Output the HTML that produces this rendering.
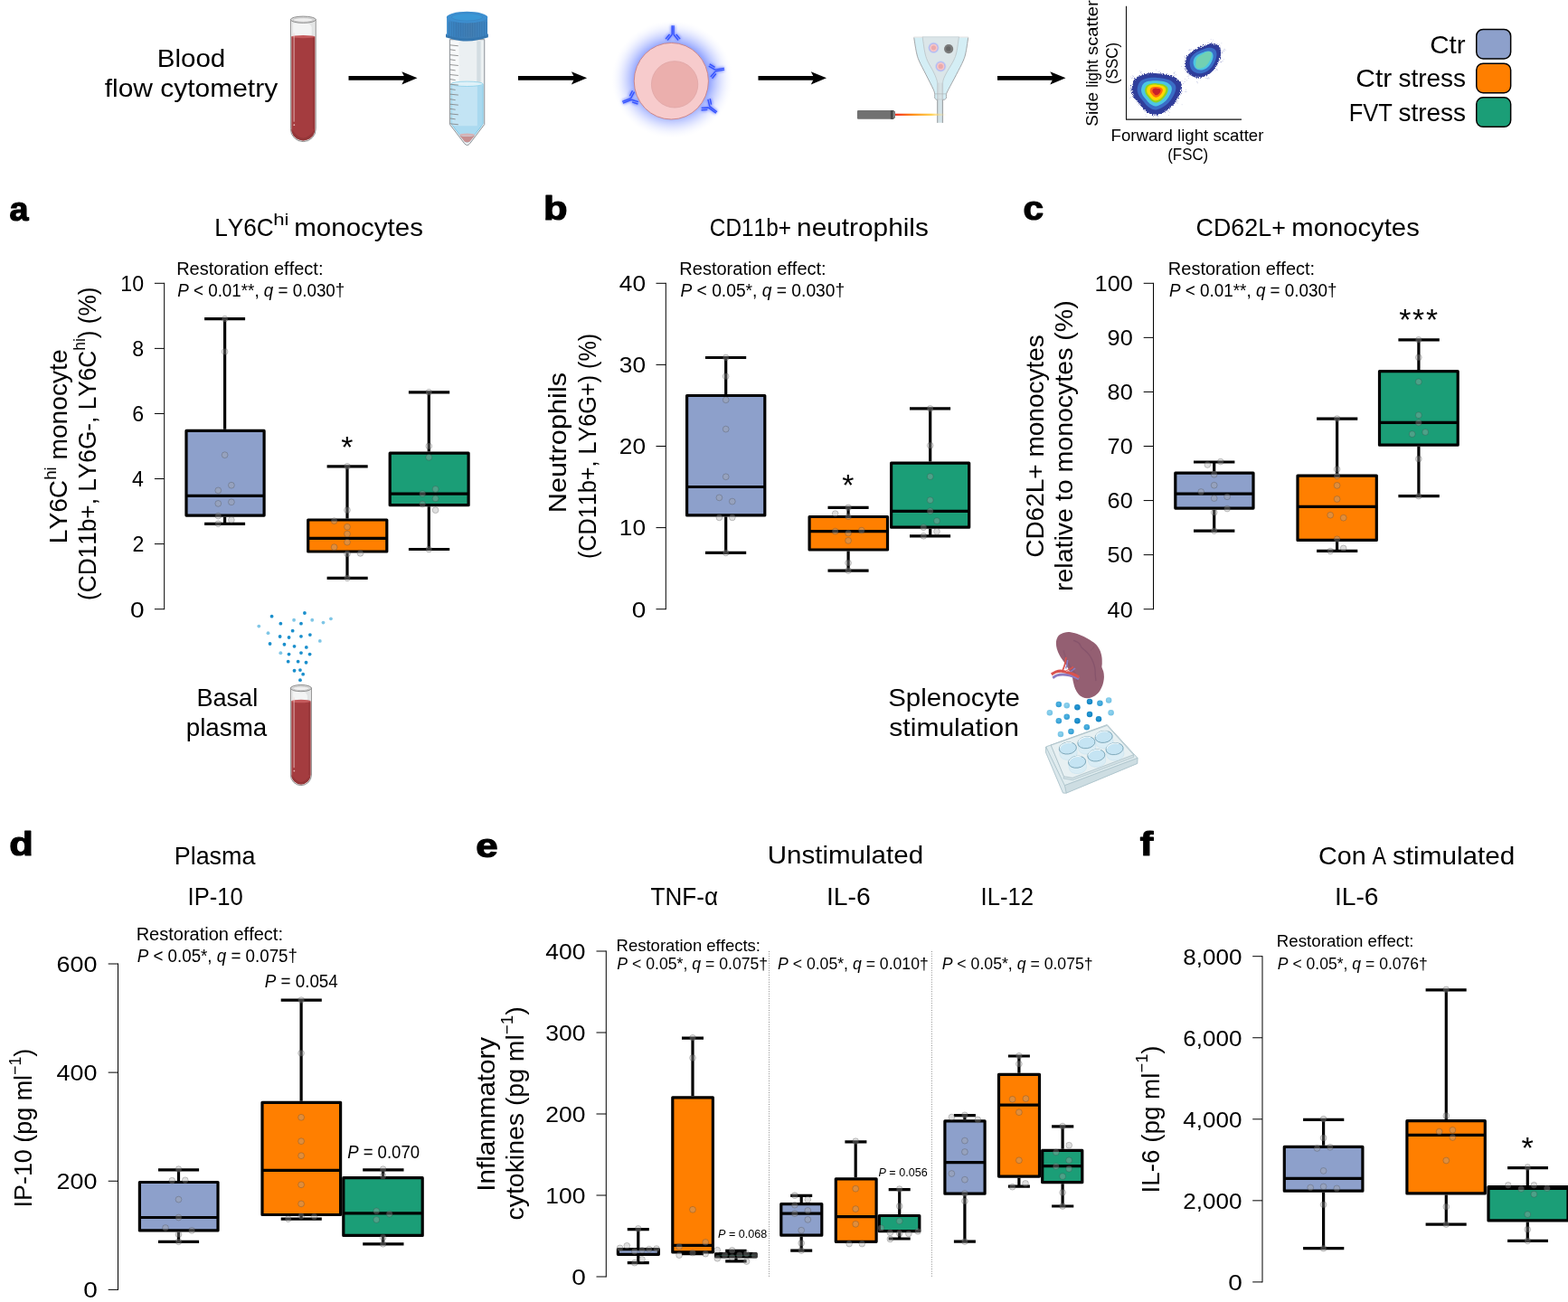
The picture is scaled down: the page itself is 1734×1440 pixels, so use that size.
<!DOCTYPE html>
<html lang="en"><head><meta charset="utf-8"><title>Figure</title>
<style>
html,body{margin:0;padding:0;background:#fff;overflow:hidden}
svg{display:block}
text{font-family:"Liberation Sans",sans-serif;font-kerning:none;white-space:pre}
.pt circle{fill:rgba(165,165,165,.36);stroke:rgba(50,50,50,.42);stroke-width:.6}
</style></head><body>
<svg width="1734" height="1440" viewBox="0 0 1734 1440">
<rect width="1734" height="1440" fill="#fff"/>
<defs>
<filter id="b1" x="-30%" y="-30%" width="160%" height="160%"><feTurbulence type="fractalNoise" baseFrequency="0.95" numOctaves="2" seed="4" result="n"/><feDisplacementMap in="SourceGraphic" in2="n" scale="5" xChannelSelector="R" yChannelSelector="G"/></filter>
<filter id="b2" x="-50%" y="-50%" width="200%" height="200%"><feGaussianBlur stdDeviation="1.6"/></filter>
<filter id="b05" x="-30%" y="-30%" width="160%" height="160%"><feGaussianBlur stdDeviation="0.4"/></filter>
<radialGradient id="glow" cx="50%" cy="50%" r="50%">
<stop offset="0" stop-color="#6f86ff" stop-opacity="1"/>
<stop offset="0.62" stop-color="#7d92ff" stop-opacity=".8"/>
<stop offset="0.70" stop-color="#8c9fff" stop-opacity=".6"/>
<stop offset="0.80" stop-color="#a3b1ff" stop-opacity=".37"/>
<stop offset="0.90" stop-color="#c3ccff" stop-opacity=".17"/>
<stop offset="1" stop-color="#e6eaff" stop-opacity="0"/>
</radialGradient>
<radialGradient id="glow2" cx="50%" cy="50%" r="50%">
<stop offset="0.55" stop-color="#7f8dff" stop-opacity="1"/>
<stop offset="1" stop-color="#aab4ff" stop-opacity="0"/>
</radialGradient>
<linearGradient id="beam" x1="0" x2="1" y1="0" y2="0">
<stop offset="0" stop-color="#f4251c"/><stop offset="0.35" stop-color="#ff8a10"/>
<stop offset="0.7" stop-color="#ffc93a" stop-opacity=".9"/><stop offset="1" stop-color="#ffe9a0" stop-opacity="0"/>
</linearGradient>
<linearGradient id="capg" x1="0" x2="1" y1="0" y2="0">
<stop offset="0" stop-color="#3d8ccc"/><stop offset="0.25" stop-color="#3a80bd"/><stop offset="0.6" stop-color="#437fb3"/><stop offset="1" stop-color="#3b86c6"/>
</linearGradient>
<radialGradient id="dD" cx="45%" cy="40%" r="60%"><stop offset="0" stop-color="#2a9bd6"/><stop offset="1" stop-color="#0f80c0"/></radialGradient>
<radialGradient id="dM" cx="45%" cy="40%" r="60%"><stop offset="0" stop-color="#55b6e2"/><stop offset="1" stop-color="#2f9bd3"/></radialGradient>
<radialGradient id="dL" cx="45%" cy="40%" r="60%"><stop offset="0" stop-color="#93d4ee"/><stop offset="1" stop-color="#6fc0e4"/></radialGradient>
</defs>
<g id="top"><text x="173.67" y="74.40" font-size="28" textLength="75.63" lengthAdjust="spacingAndGlyphs" fill="#000">Blood</text>
<text x="115.68" y="106.90" font-size="28" textLength="191.48" lengthAdjust="spacingAndGlyphs" fill="#000">flow cytometry</text>
<path d="M321.40 21.40V142.70A13.90 13.90 0 0 0 349.20 142.70V21.40Z" fill="#ececec" stroke="#8e8e8e" stroke-width="1"/>
<path d="M323.10 23.40V41.40H347.50V23.40Z" fill="#e2e4e4"/>
<path d="M324.10 25.40V41.40H344.70V30.40Q343.70 26.40 340.70 25.90Z" fill="#f3f4f4"/>
<path d="M322.30 40.60V142.40A13.00 13.00 0 0 0 348.30 142.40V40.60Z" fill="#a43c3f"/>
<path d="M322.30 142.40A13.00 13.00 0 0 0 348.30 142.40Q335.30 162.85 322.30 142.40Z" fill="#8f3336" opacity=".8"/>
<path d="M347.00 41.40V142.70" stroke="#983639" stroke-width="2.2"/>
<ellipse cx="335.30" cy="40.60" rx="13.00" ry="1.7" fill="#c45a5c"/>
<path d="M325.10 36.40V134.70" stroke="#f1d6d6" stroke-width=".8" opacity=".95"/>
<circle cx="325.30" cy="138.20" r=".9" fill="#e3b5b5"/>
<ellipse cx="335.30" cy="21.70" rx="13.90" ry="3.60" fill="#dcdcdc" stroke="#8e8e8e" stroke-width="1"/>
<ellipse cx="335.30" cy="22.00" rx="11.40" ry="2.20" fill="#efefef" stroke="#b5b5b5" stroke-width=".6"/>
<path d="M385.5 83.95H449.5V88.65H385.5Z" fill="#000"/><path d="M461.50 86.30L444.30 79.20L447.90 86.30L444.30 93.40Z" fill="#000"/>
<path d="M573.0 83.95H637.1V88.65H573.0Z" fill="#000"/><path d="M649.10 86.30L631.90 79.20L635.50 86.30L631.90 93.40Z" fill="#000"/>
<path d="M838.5 83.95H902.0V88.65H838.5Z" fill="#000"/><path d="M914.00 86.30L896.80 79.20L900.40 86.30L896.80 93.40Z" fill="#000"/>
<path d="M1103.0 83.95H1166.5V88.65H1103.0Z" fill="#000"/><path d="M1178.50 86.30L1161.30 79.20L1164.90 86.30L1161.30 93.40Z" fill="#000"/>
<path d="M497.39 43.68V137.54L513.68 158.80Q516.64 162.30 519.59 158.80L535.76 137.54V43.68Z" fill="#ebf0f2" stroke="#8b9196" stroke-width="1"/>
<path d="M527.26 45.45V90.91H531.63V45.45Z" fill="#d3dde2"/>
<path d="M498.34 45.45V90.91H507.54V45.45Z" fill="#f7f9fa"/>
<path d="M499.04 92.68V136.95L514.27 157.02Q516.64 158.80 519.00 157.02L534.11 136.95V92.68Z" fill="#c3e4f4"/>
<path d="M527.85 94.45V138.72L519.00 152.30L534.11 136.95V94.45Z" fill="#a9d9ef"/>
<path d="M500.11 139.32H533.16L525.49 148.76L507.78 148.76Z" fill="#abdaf0"/>
<path d="M499.04 92.68V136.95L508.96 149.94M534.11 92.68V136.95L524.31 149.94" fill="none" stroke="#6cbfe0" stroke-width=".7"/>
<ellipse cx="516.52" cy="92.80" rx="17.53" ry="2.70" fill="#dff1f8" stroke="#7fcbe6" stroke-width=".7"/>
<path d="M508.02 149.70Q516.64 152.30 525.25 149.70L519.35 156.79Q516.64 158.44 513.92 156.79Z" fill="#c78f90"/>
<ellipse cx="516.64" cy="149.11" rx="8.62" ry="1.6" fill="#d6b3b6"/>
<path d="M497.63 49.82L506.84 50.77M497.63 54.78L503.65 55.73M497.63 60.68L506.84 61.63M497.63 65.76L503.65 66.71M497.63 71.55L506.84 72.49M497.63 76.98L503.65 77.92M497.63 82.53L506.84 83.47M497.63 87.60L503.65 88.55M497.63 93.15L506.84 94.10M497.63 98.47L503.65 99.41M497.63 104.13L506.84 105.08M497.63 109.68L503.65 110.63M497.63 115.23L506.84 116.17M497.63 120.31L503.65 121.25M497.63 125.86L506.84 126.80M497.63 130.93L503.65 131.88M497.63 136.84L506.84 137.78" stroke="#7d7d7d" stroke-width=".8" fill="none"/>
<path d="M493.02 37.54V41.32Q516.40 49.59 539.89 41.32V37.54Q516.40 44.27 493.02 37.54Z" fill="#3577b0"/>
<path d="M494.09 17.94V38.96Q516.40 45.45 539.07 38.96V17.94Q516.40 8.85 494.09 17.94Z" fill="url(#capg)"/>
<path d="M496.56 24.20V40.73M499.16 24.20V40.73M501.76 24.20V40.73M504.36 24.20V40.73M506.95 24.20V40.73M509.55 24.20V40.73M512.15 24.20V40.73M514.75 24.20V40.73M517.34 24.20V40.73M519.94 24.20V40.73M522.54 24.20V40.73M525.14 24.20V40.73M527.73 24.20V40.73M530.33 24.20V40.73M532.93 24.20V40.73M535.53 24.20V40.73M538.12 24.20V40.73" stroke="#336fa5" stroke-width=".8" opacity=".7"/>
<ellipse cx="516.52" cy="19.13" rx="22.49" ry="6.32" fill="#3d8fd0"/>
<ellipse cx="516.52" cy="18.89" rx="17.12" ry="4.13" fill="#3a97d6" stroke="#3a82c0" stroke-width=".6"/>
<ellipse cx="743.33" cy="87.78" rx="67" ry="65" fill="url(#glow)"/>
<g filter="url(#b2)" opacity=".9"><g transform="translate(744.11 38.33) rotate(0.0)"><path d="M-.9 0V-10.2M.9 0V-10.2M-.9 0L-6 6.2M-3.6 -.3L-8 4.8M.9 0L6 6.2M3.6 -.3L8 4.8" stroke="#7d8fff" stroke-width="3.4" fill="none" stroke-linecap="butt"/></g></g>
<g filter="url(#b2)" opacity=".9"><g transform="translate(790.89 78.00) rotate(80.0)"><path d="M-.9 0V-10.2M.9 0V-10.2M-.9 0L-6 6.2M-3.6 -.3L-8 4.8M.9 0L6 6.2M3.6 -.3L8 4.8" stroke="#7d8fff" stroke-width="3.4" fill="none" stroke-linecap="butt"/></g></g>
<g filter="url(#b2)" opacity=".9"><g transform="translate(784.22 118.33) rotate(127.0)"><path d="M-.9 0V-10.2M.9 0V-10.2M-.9 0L-6 6.2M-3.6 -.3L-8 4.8M.9 0L6 6.2M3.6 -.3L8 4.8" stroke="#7d8fff" stroke-width="3.4" fill="none" stroke-linecap="butt"/></g></g>
<g filter="url(#b2)" opacity=".9"><g transform="translate(698.00 109.44) rotate(-112.0)"><path d="M-.9 0V-10.2M.9 0V-10.2M-.9 0L-6 6.2M-3.6 -.3L-8 4.8M.9 0L6 6.2M3.6 -.3L8 4.8" stroke="#7d8fff" stroke-width="3.4" fill="none" stroke-linecap="butt"/></g></g>
<g transform="translate(744.11 38.33) rotate(0.0)"><path d="M-.9 0V-10.2M.9 0V-10.2M-.9 0L-6 6.2M-3.6 -.3L-8 4.8M.9 0L6 6.2M3.6 -.3L8 4.8" stroke="#3553ff" stroke-width="1.45" fill="none" stroke-linecap="butt"/></g>
<g transform="translate(790.89 78.00) rotate(80.0)"><path d="M-.9 0V-10.2M.9 0V-10.2M-.9 0L-6 6.2M-3.6 -.3L-8 4.8M.9 0L6 6.2M3.6 -.3L8 4.8" stroke="#3553ff" stroke-width="1.45" fill="none" stroke-linecap="butt"/></g>
<g transform="translate(784.22 118.33) rotate(127.0)"><path d="M-.9 0V-10.2M.9 0V-10.2M-.9 0L-6 6.2M-3.6 -.3L-8 4.8M.9 0L6 6.2M3.6 -.3L8 4.8" stroke="#3553ff" stroke-width="1.45" fill="none" stroke-linecap="butt"/></g>
<g transform="translate(698.00 109.44) rotate(-112.0)"><path d="M-.9 0V-10.2M.9 0V-10.2M-.9 0L-6 6.2M-3.6 -.3L-8 4.8M.9 0L6 6.2M3.6 -.3L8 4.8" stroke="#3553ff" stroke-width="1.45" fill="none" stroke-linecap="butt"/></g>
<ellipse cx="742.33" cy="89.72" rx="41.1" ry="42.3" fill="#f7cbcc" stroke="#c98182" stroke-width=".9"/>
<circle cx="746.11" cy="93.33" r="25.70" fill="#ebafad" stroke="#dca4a3" stroke-width=".7"/>
<path d="M1010.59 40.88C1011.05 43.61 1012.39 52.89 1013.33 57.25C1014.28 61.62 1014.48 62.81 1016.27 67.06C1018.07 71.31 1021.50 77.52 1024.12 82.75C1026.73 87.97 1030.36 94.84 1031.96 98.43C1033.56 102.03 1033.43 102.68 1033.73 104.31C1034.02 105.95 1033.45 107.25 1033.73 108.24C1034.00 109.22 1035.11 109.87 1035.39 110.20L1044.71 110.20C1045.00 109.87 1046.18 109.22 1046.47 108.24C1046.76 107.25 1046.03 105.95 1046.47 104.31C1046.91 102.68 1047.29 102.03 1049.12 98.43C1050.95 94.84 1054.75 87.97 1057.45 82.75C1060.15 77.52 1063.50 71.31 1065.29 67.06C1067.09 62.81 1067.32 61.62 1068.24 57.25C1069.15 52.89 1070.36 43.61 1070.78 40.88Z" fill="#d4eef5" stroke="#9a9c9e" stroke-width=".9"/>
<path d="M1009.90 40.88H1071.67" stroke="#fff" stroke-width="1.2"/>
<path d="M1020.20 40.88C1020.60 43.61 1021.75 52.89 1022.65 57.25C1023.55 61.62 1024.04 63.46 1025.59 67.06C1027.14 70.65 1030.33 75.56 1031.96 78.82C1033.59 82.09 1034.61 84.54 1035.39 86.67C1036.18 88.79 1036.45 90.75 1036.67 91.57V110.20H1042.55V91.57L1042.55 91.57C1042.75 90.75 1042.88 88.79 1043.73 86.67C1044.58 84.54 1045.85 82.09 1047.65 78.82C1049.44 75.56 1052.79 70.65 1054.51 67.06C1056.23 63.46 1056.96 61.62 1057.94 57.25C1058.92 52.89 1059.98 43.61 1060.39 40.88Z" fill="#dbe6e9" stroke="#b4bbbe" stroke-width=".7"/>
<path d="M1020.69 40.88H1059.90" stroke="#dbe6e9" stroke-width="1.2"/>
<rect x="1036.37" y="110.20" width="6.37" height="25.49" fill="#d9e9ee"/>
<path d="M1036.67 110.20V135.88M1042.55 110.20V135.88" stroke="#9d9fa1" stroke-width="1"/>
<path d="M1038.14 91.57V135.88M1041.08 91.57V135.88" stroke="#b9c4c8" stroke-width=".6"/>
<path d="M1033.92 103.82H1046.27" stroke="#aab0b3" stroke-width=".6"/>
<circle cx="1032.45" cy="52.84" r="6.6" fill="url(#glow2)"/>
<circle cx="1032.45" cy="52.84" r="4.4" fill="#f5c6c8"/>
<circle cx="1032.45" cy="52.84" r="2.6" fill="#eba9ab"/>
<circle cx="1040.29" cy="73.43" r="6.6" fill="url(#glow2)"/>
<circle cx="1040.29" cy="73.43" r="4.4" fill="#f5c6c8"/>
<circle cx="1040.29" cy="73.43" r="2.6" fill="#eba9ab"/>
<circle cx="1049.12" cy="54.12" r="5.1" fill="#7b7b7b"/>
<circle cx="1048.82" cy="53.92" r="2.6" fill="#666"/>
<rect x="989.31" y="125.69" width="57.84" height="2.20" fill="url(#beam)"/>
<path d="M949.12 122.06H987.84L990.00 123.92V129.80L987.84 131.76H949.12Q947.94 131.76 947.94 130.59V123.24Q947.94 122.06 949.12 122.06Z" fill="#717171"/>
<path d="M984.90 122.06H987.84L990.00 123.92V129.80L987.84 131.76H984.90Z" fill="#474747"/>
<path d="M987.65 122.75L989.80 124.12V129.61L987.65 131.08Z" fill="#8a8a8a"/>
<path d="M1245.51 6.68V132.10H1372.99" fill="none" stroke="#111" stroke-width="1.1"/>
<path d="M1251.42 97.66C1251.64 94.45 1252.71 89.95 1254.89 87.38C1257.08 84.81 1260.35 83.27 1264.53 82.24C1268.71 81.21 1274.60 80.89 1279.95 81.21C1285.31 81.53 1292.37 82.50 1296.66 84.17C1300.94 85.84 1304.05 88.56 1305.65 91.24C1307.26 93.91 1307.15 96.80 1306.29 100.23C1305.44 103.66 1302.97 108.26 1300.51 111.80C1298.05 115.33 1295.16 118.82 1291.52 121.43C1287.88 124.05 1282.52 127.05 1278.67 127.47C1274.81 127.90 1271.60 126.19 1268.39 124.00C1265.17 121.82 1261.85 117.26 1259.39 114.37C1256.93 111.48 1254.94 109.44 1253.61 106.66C1252.28 103.87 1251.21 100.87 1251.42 97.66Z" fill="#35409a" filter="url(#b1)"/>
<path d="M1253.33 97.93C1253.53 94.94 1254.53 90.76 1256.56 88.37C1258.59 85.98 1261.64 84.55 1265.52 83.59C1269.40 82.63 1274.88 82.34 1279.86 82.63C1284.84 82.93 1291.41 83.83 1295.40 85.38C1299.38 86.94 1302.27 89.47 1303.76 91.96C1305.26 94.45 1305.16 97.13 1304.36 100.32C1303.56 103.51 1301.27 107.79 1298.98 111.08C1296.69 114.36 1294.00 117.61 1290.62 120.04C1287.23 122.47 1282.25 125.26 1278.67 125.66C1275.08 126.05 1272.09 124.46 1269.11 122.43C1266.12 120.40 1263.03 116.16 1260.74 113.47C1258.45 110.78 1256.60 108.89 1255.36 106.30C1254.13 103.71 1253.13 100.92 1253.33 97.93Z" fill="#2f3d9b"/>
<path d="M1257.69 98.55C1257.85 96.07 1258.68 92.61 1260.36 90.63C1262.04 88.65 1264.57 87.47 1267.78 86.67C1271.00 85.88 1275.53 85.64 1279.66 85.88C1283.78 86.13 1289.22 86.87 1292.52 88.16C1295.82 89.44 1298.21 91.54 1299.44 93.60C1300.68 95.66 1300.60 97.89 1299.94 100.53C1299.28 103.17 1297.38 106.71 1295.49 109.43C1293.59 112.15 1291.36 114.84 1288.56 116.85C1285.76 118.86 1281.63 121.17 1278.67 121.50C1275.70 121.83 1273.22 120.51 1270.75 118.83C1268.28 117.15 1265.72 113.64 1263.82 111.41C1261.93 109.18 1260.39 107.62 1259.37 105.47C1258.35 103.33 1257.52 101.02 1257.69 98.55Z" fill="#3a6dc6"/>
<path d="M1262.05 99.26C1262.18 97.31 1262.83 94.56 1264.16 92.99C1265.50 91.43 1267.50 90.49 1270.04 89.86C1272.59 89.23 1276.18 89.04 1279.45 89.23C1282.72 89.43 1287.03 90.02 1289.64 91.03C1292.25 92.05 1294.15 93.71 1295.13 95.35C1296.11 96.98 1296.04 98.74 1295.52 100.83C1295.00 102.92 1293.49 105.73 1291.99 107.89C1290.49 110.04 1288.73 112.17 1286.50 113.77C1284.28 115.36 1281.02 117.19 1278.67 117.45C1276.31 117.71 1274.35 116.67 1272.40 115.33C1270.44 114.00 1268.41 111.22 1266.91 109.46C1265.41 107.69 1264.19 106.45 1263.38 104.75C1262.57 103.05 1261.92 101.22 1262.05 99.26Z" fill="#4cc6e3"/>
<path d="M1266.13 99.74C1266.23 98.27 1266.73 96.20 1267.73 95.01C1268.74 93.83 1270.24 93.12 1272.16 92.65C1274.09 92.18 1276.79 92.03 1279.26 92.18C1281.72 92.32 1284.97 92.77 1286.94 93.54C1288.91 94.30 1290.34 95.56 1291.08 96.79C1291.82 98.02 1291.77 99.35 1291.37 100.93C1290.98 102.50 1289.85 104.62 1288.71 106.25C1287.58 107.87 1286.25 109.48 1284.58 110.68C1282.90 111.88 1280.44 113.26 1278.67 113.46C1276.89 113.65 1275.42 112.87 1273.94 111.86C1272.46 110.86 1270.93 108.76 1269.80 107.43C1268.67 106.10 1267.75 105.16 1267.14 103.88C1266.53 102.60 1266.04 101.22 1266.13 99.74Z" fill="#8ed321"/>
<path d="M1268.15 99.89C1268.24 98.67 1268.64 96.96 1269.47 95.99C1270.30 95.01 1271.55 94.42 1273.14 94.03C1274.72 93.64 1276.96 93.52 1279.00 93.64C1281.03 93.76 1283.72 94.13 1285.34 94.76C1286.97 95.40 1288.15 96.43 1288.76 97.45C1289.37 98.47 1289.33 99.57 1289.01 100.87C1288.68 102.17 1287.74 103.92 1286.81 105.26C1285.87 106.61 1284.77 107.93 1283.39 108.93C1282.01 109.92 1279.97 111.06 1278.51 111.22C1277.04 111.38 1275.82 110.73 1274.60 109.90C1273.38 109.07 1272.12 107.34 1271.18 106.24C1270.25 105.14 1269.49 104.37 1268.98 103.31C1268.48 102.25 1268.07 101.11 1268.15 99.89Z" fill="#ffd800"/>
<path d="M1271.72 100.15C1271.77 99.33 1272.05 98.18 1272.60 97.53C1273.16 96.87 1274.00 96.48 1275.06 96.22C1276.13 95.96 1277.63 95.87 1278.99 95.96C1280.36 96.04 1282.16 96.28 1283.25 96.71C1284.35 97.14 1285.14 97.83 1285.55 98.51C1285.96 99.19 1285.93 99.93 1285.71 100.81C1285.49 101.68 1284.86 102.85 1284.24 103.75C1283.61 104.66 1282.87 105.55 1281.94 106.21C1281.01 106.88 1279.65 107.64 1278.67 107.75C1277.68 107.86 1276.86 107.42 1276.04 106.87C1275.23 106.31 1274.38 105.15 1273.75 104.41C1273.12 103.67 1272.62 103.15 1272.28 102.44C1271.94 101.73 1271.66 100.97 1271.72 100.15Z" fill="#ff6a10"/>
<path d="M1274.39 100.34C1274.42 99.81 1274.60 99.07 1274.96 98.65C1275.32 98.22 1275.86 97.97 1276.55 97.80C1277.24 97.63 1278.21 97.58 1279.09 97.63C1279.98 97.68 1281.14 97.84 1281.85 98.12C1282.56 98.39 1283.07 98.84 1283.33 99.28C1283.60 99.73 1283.58 100.20 1283.44 100.77C1283.30 101.33 1282.89 102.09 1282.49 102.68C1282.08 103.26 1281.60 103.84 1281.00 104.27C1280.40 104.70 1279.52 105.19 1278.88 105.26C1278.24 105.33 1277.71 105.05 1277.18 104.69C1276.65 104.33 1276.11 103.58 1275.70 103.10C1275.29 102.62 1274.97 102.29 1274.75 101.83C1274.53 101.37 1274.35 100.87 1274.39 100.34Z" fill="#c8202a"/>
<path d="M1311.18 73.89C1310.64 70.89 1310.86 67.14 1312.08 64.25C1313.30 61.36 1315.72 58.68 1318.50 56.54C1321.29 54.40 1325.36 52.77 1328.78 51.40C1332.21 50.03 1336.02 48.49 1339.06 48.32C1342.10 48.15 1345.19 48.89 1347.03 50.37C1348.87 51.85 1349.90 54.44 1350.11 57.18C1350.33 59.92 1349.51 63.61 1348.31 66.82C1347.11 70.03 1345.21 73.67 1342.92 76.46C1340.63 79.24 1337.67 81.96 1334.56 83.53C1331.46 85.09 1327.50 86.05 1324.28 85.84C1321.07 85.62 1317.47 84.23 1315.29 82.24C1313.10 80.25 1311.71 76.89 1311.18 73.89Z" fill="#35409a" filter="url(#b1)"/>
<path d="M1312.74 73.32C1312.25 70.56 1312.44 67.12 1313.57 64.46C1314.69 61.80 1316.92 59.33 1319.48 57.36C1322.04 55.39 1325.78 53.90 1328.94 52.63C1332.09 51.37 1335.60 49.95 1338.39 49.80C1341.19 49.64 1344.03 50.33 1345.72 51.69C1347.42 53.05 1348.36 55.43 1348.56 57.95C1348.76 60.48 1348.01 63.87 1346.91 66.82C1345.80 69.78 1344.05 73.13 1341.94 75.69C1339.83 78.25 1337.11 80.75 1334.26 82.19C1331.40 83.63 1327.75 84.51 1324.80 84.32C1321.84 84.12 1318.53 82.84 1316.52 81.01C1314.51 79.18 1313.23 76.08 1312.74 73.32Z" fill="#2f3d9b"/>
<path d="M1315.86 72.19C1315.46 69.91 1315.62 67.07 1316.55 64.87C1317.48 62.67 1319.32 60.64 1321.43 59.01C1323.55 57.38 1326.64 56.14 1329.24 55.10C1331.85 54.06 1334.75 52.89 1337.06 52.76C1339.37 52.63 1341.71 53.20 1343.11 54.32C1344.51 55.44 1345.29 57.41 1345.46 59.50C1345.62 61.58 1345.00 64.38 1344.09 66.82C1343.18 69.26 1341.73 72.03 1339.99 74.15C1338.25 76.26 1336.00 78.33 1333.64 79.52C1331.28 80.71 1328.27 81.44 1325.83 81.27C1323.38 81.11 1320.65 80.05 1318.99 78.54C1317.33 77.03 1316.27 74.47 1315.86 72.19Z" fill="#3a6dc6"/>
<path d="M1319.77 70.78C1319.47 69.10 1319.59 67.00 1320.27 65.38C1320.96 63.76 1322.31 62.26 1323.87 61.06C1325.43 59.86 1327.71 58.95 1329.63 58.19C1331.55 57.42 1333.68 56.55 1335.39 56.46C1337.09 56.36 1338.82 56.78 1339.85 57.61C1340.88 58.44 1341.46 59.89 1341.58 61.42C1341.70 62.96 1341.24 65.02 1340.57 66.82C1339.90 68.62 1338.83 70.66 1337.55 72.22C1336.26 73.78 1334.61 75.30 1332.87 76.18C1331.13 77.05 1328.91 77.59 1327.11 77.47C1325.31 77.35 1323.30 76.57 1322.07 75.46C1320.85 74.34 1320.07 72.46 1319.77 70.78Z" fill="#4cc6e3"/>
<path d="M1322.36 70.03C1322.53 68.43 1322.57 65.86 1323.64 64.25C1324.71 62.64 1326.85 61.57 1328.78 60.40C1330.71 59.22 1333.49 57.61 1335.21 57.18C1336.92 56.75 1338.31 56.97 1339.06 57.83C1339.81 58.68 1340.13 60.40 1339.70 62.32C1339.28 64.25 1337.88 67.36 1336.49 69.39C1335.10 71.43 1333.17 73.46 1331.35 74.53C1329.53 75.60 1327.03 75.92 1325.57 75.82C1324.11 75.71 1323.15 74.85 1322.61 73.89C1322.08 72.92 1322.19 71.64 1322.36 70.03Z" fill="#72d1b2"/>
<g fill="#5a63b0" opacity=".6"><rect x="1310.5" y="89.9" width=".6" height=".6"/><rect x="1333.3" y="83.6" width=".6" height=".6"/><rect x="1278.8" y="80.9" width=".6" height=".6"/><rect x="1345.0" y="76.9" width=".6" height=".6"/><rect x="1266.7" y="126.5" width=".6" height=".6"/><rect x="1351.7" y="57.5" width=".6" height=".6"/><rect x="1340.3" y="46.1" width=".6" height=".6"/><rect x="1310.2" y="101.2" width=".6" height=".6"/><rect x="1352.9" y="65.4" width=".6" height=".6"/><rect x="1299.6" y="113.7" width=".6" height=".6"/><rect x="1351.4" y="58.5" width=".6" height=".6"/><rect x="1334.2" y="85.9" width=".6" height=".6"/><rect x="1298.7" y="84.7" width=".6" height=".6"/><rect x="1319.2" y="55.8" width=".6" height=".6"/><rect x="1252.8" y="84.4" width=".6" height=".6"/><rect x="1334.1" y="84.1" width=".6" height=".6"/><rect x="1301.9" y="114.4" width=".6" height=".6"/><rect x="1354.4" y="53.9" width=".6" height=".6"/><rect x="1250.9" y="86.5" width=".6" height=".6"/><rect x="1308.9" y="74.9" width=".6" height=".6"/><rect x="1300.3" y="82.6" width=".6" height=".6"/><rect x="1338.8" y="43.0" width=".6" height=".6"/><rect x="1311.2" y="99.0" width=".6" height=".6"/><rect x="1310.2" y="86.9" width=".6" height=".6"/><rect x="1311.6" y="101.4" width=".6" height=".6"/><rect x="1354.8" y="55.5" width=".6" height=".6"/><rect x="1250.2" y="107.1" width=".6" height=".6"/><rect x="1314.0" y="86.1" width=".6" height=".6"/><rect x="1297.9" y="81.2" width=".6" height=".6"/><rect x="1353.2" y="55.9" width=".6" height=".6"/><rect x="1260.9" y="80.3" width=".6" height=".6"/><rect x="1350.0" y="68.5" width=".6" height=".6"/><rect x="1299.9" y="110.7" width=".6" height=".6"/><rect x="1322.0" y="86.5" width=".6" height=".6"/><rect x="1277.9" y="128.6" width=".6" height=".6"/><rect x="1349.1" y="50.7" width=".6" height=".6"/><rect x="1251.9" y="83.0" width=".6" height=".6"/><rect x="1336.0" y="84.9" width=".6" height=".6"/><rect x="1298.2" y="80.4" width=".6" height=".6"/><rect x="1353.5" y="54.2" width=".6" height=".6"/><rect x="1267.6" y="128.5" width=".6" height=".6"/><rect x="1314.3" y="55.4" width=".6" height=".6"/><rect x="1297.8" y="80.5" width=".6" height=".6"/><rect x="1346.3" y="76.9" width=".6" height=".6"/><rect x="1298.3" y="83.3" width=".6" height=".6"/><rect x="1310.9" y="63.3" width=".6" height=".6"/><rect x="1253.4" y="106.8" width=".6" height=".6"/><rect x="1323.5" y="86.7" width=".6" height=".6"/><rect x="1260.5" y="78.2" width=".6" height=".6"/><rect x="1337.3" y="86.6" width=".6" height=".6"/><rect x="1278.3" y="76.9" width=".6" height=".6"/><rect x="1324.0" y="91.6" width=".6" height=".6"/><rect x="1251.7" y="86.5" width=".6" height=".6"/><rect x="1309.7" y="61.9" width=".6" height=".6"/><rect x="1281.7" y="79.7" width=".6" height=".6"/><rect x="1333.4" y="86.0" width=".6" height=".6"/><rect x="1280.7" y="79.1" width=".6" height=".6"/><rect x="1350.5" y="57.8" width=".6" height=".6"/><rect x="1291.8" y="123.1" width=".6" height=".6"/><rect x="1346.4" y="48.4" width=".6" height=".6"/><rect x="1281.2" y="82.4" width=".6" height=".6"/><rect x="1319.5" y="54.3" width=".6" height=".6"/><rect x="1247.3" y="95.9" width=".6" height=".6"/><rect x="1335.4" y="86.4" width=".6" height=".6"/><rect x="1248.2" y="98.1" width=".6" height=".6"/><rect x="1306.3" y="73.4" width=".6" height=".6"/><rect x="1250.5" y="84.7" width=".6" height=".6"/><rect x="1315.5" y="54.0" width=".6" height=".6"/><rect x="1308.2" y="91.9" width=".6" height=".6"/><rect x="1351.1" y="56.2" width=".6" height=".6"/><rect x="1253.2" y="84.4" width=".6" height=".6"/><rect x="1350.2" y="68.0" width=".6" height=".6"/><rect x="1280.2" y="130.3" width=".6" height=".6"/><rect x="1323.1" y="90.0" width=".6" height=".6"/><rect x="1301.9" y="112.2" width=".6" height=".6"/><rect x="1341.1" y="43.8" width=".6" height=".6"/><rect x="1250.6" y="96.8" width=".6" height=".6"/><rect x="1345.2" y="76.4" width=".6" height=".6"/><rect x="1259.5" y="116.3" width=".6" height=".6"/><rect x="1351.3" y="57.9" width=".6" height=".6"/><rect x="1279.5" y="128.0" width=".6" height=".6"/><rect x="1329.8" y="49.2" width=".6" height=".6"/><rect x="1305.6" y="98.3" width=".6" height=".6"/><rect x="1309.8" y="62.7" width=".6" height=".6"/><rect x="1299.7" y="82.7" width=".6" height=".6"/><rect x="1310.2" y="75.2" width=".6" height=".6"/><rect x="1293.2" y="124.2" width=".6" height=".6"/><rect x="1310.4" y="75.7" width=".6" height=".6"/><rect x="1264.9" y="81.7" width=".6" height=".6"/><rect x="1316.0" y="82.1" width=".6" height=".6"/><rect x="1308.2" y="92.2" width=".6" height=".6"/><rect x="1351.8" y="58.2" width=".6" height=".6"/><rect x="1261.9" y="79.3" width=".6" height=".6"/><rect x="1335.9" y="86.3" width=".6" height=".6"/><rect x="1261.2" y="79.5" width=".6" height=".6"/><rect x="1352.5" y="66.9" width=".6" height=".6"/><rect x="1260.8" y="80.2" width=".6" height=".6"/><rect x="1316.9" y="54.2" width=".6" height=".6"/><rect x="1249.0" y="108.3" width=".6" height=".6"/><rect x="1353.4" y="56.1" width=".6" height=".6"/><rect x="1298.3" y="80.7" width=".6" height=".6"/><rect x="1352.7" y="55.6" width=".6" height=".6"/><rect x="1262.7" y="81.0" width=".6" height=".6"/><rect x="1314.0" y="83.8" width=".6" height=".6"/><rect x="1292.0" y="127.0" width=".6" height=".6"/><rect x="1310.1" y="63.4" width=".6" height=".6"/><rect x="1306.8" y="115.5" width=".6" height=".6"/><rect x="1323.8" y="90.6" width=".6" height=".6"/><rect x="1281.8" y="78.5" width=".6" height=".6"/><rect x="1315.0" y="55.4" width=".6" height=".6"/><rect x="1298.9" y="78.9" width=".6" height=".6"/><rect x="1315.8" y="55.4" width=".6" height=".6"/><rect x="1295.2" y="83.6" width=".6" height=".6"/><rect x="1315.7" y="80.6" width=".6" height=".6"/><rect x="1300.9" y="113.4" width=".6" height=".6"/><rect x="1315.6" y="83.3" width=".6" height=".6"/><rect x="1295.4" y="83.4" width=".6" height=".6"/><rect x="1350.3" y="68.5" width=".6" height=".6"/><rect x="1312.0" y="88.6" width=".6" height=".6"/><rect x="1351.1" y="67.5" width=".6" height=".6"/><rect x="1298.3" y="82.9" width=".6" height=".6"/><rect x="1350.6" y="47.6" width=".6" height=".6"/><rect x="1306.8" y="89.3" width=".6" height=".6"/><rect x="1313.9" y="82.6" width=".6" height=".6"/><rect x="1262.1" y="81.2" width=".6" height=".6"/><rect x="1349.3" y="68.5" width=".6" height=".6"/><rect x="1258.6" y="115.0" width=".6" height=".6"/><rect x="1340.3" y="46.8" width=".6" height=".6"/><rect x="1252.4" y="85.6" width=".6" height=".6"/><rect x="1343.6" y="77.8" width=".6" height=".6"/><rect x="1306.1" y="98.7" width=".6" height=".6"/><rect x="1349.4" y="65.8" width=".6" height=".6"/><rect x="1309.5" y="90.2" width=".6" height=".6"/><rect x="1310.0" y="65.4" width=".6" height=".6"/><rect x="1254.2" y="86.8" width=".6" height=".6"/><rect x="1312.8" y="84.0" width=".6" height=".6"/><rect x="1311.6" y="101.0" width=".6" height=".6"/><rect x="1335.6" y="87.4" width=".6" height=".6"/></g>
<text transform="translate(1214.40 0) rotate(-90)" font-size="18.5" fill="#000"><tspan x="-139.66" y="0.00" textLength="37.69" lengthAdjust="spacingAndGlyphs">Side</tspan> <tspan x="-96.83" y="0.00" textLength="30.75" lengthAdjust="spacingAndGlyphs">light</tspan> <tspan x="-60.96" y="0.00" textLength="60.70" lengthAdjust="spacingAndGlyphs">scatter</tspan></text>
<text x="0" y="0" transform="translate(1235.60 92.95) rotate(-90)" font-size="18.5" textLength="46.21" lengthAdjust="spacingAndGlyphs" fill="#000">(SSC)</text>
<text x="1228.57" y="155.60" font-size="18.5" textLength="168.84" lengthAdjust="spacingAndGlyphs" fill="#000">Forward light scatter</text>
<text x="1291.25" y="177.00" font-size="18.5" textLength="44.99" lengthAdjust="spacingAndGlyphs" fill="#000">(FSC)</text>
<rect x="1632.75" y="32.45" width="37.90" height="32.50" rx="7.4" ry="7.4" fill="#8DA0CB" stroke="#000" stroke-width="1.5"/>
<text font-size="28" fill="#000"><tspan x="1581.20" y="58.80" textLength="39.39" lengthAdjust="spacingAndGlyphs">Ctr</tspan></text>
<rect x="1632.75" y="70.15" width="37.90" height="32.50" rx="7.4" ry="7.4" fill="#FF7F00" stroke="#000" stroke-width="1.5"/>
<text font-size="28" fill="#000"><tspan x="1499.28" y="96.20" textLength="39.92" lengthAdjust="spacingAndGlyphs">Ctr</tspan> <tspan x="1546.42" y="96.20" textLength="74.69" lengthAdjust="spacingAndGlyphs">stress</tspan></text>
<rect x="1632.75" y="107.85" width="37.90" height="32.50" rx="7.4" ry="7.4" fill="#1B9E77" stroke="#000" stroke-width="1.5"/>
<text font-size="28" fill="#000"><tspan x="1491.81" y="133.60" textLength="48.07" lengthAdjust="spacingAndGlyphs">FVT</tspan> <tspan x="1546.42" y="133.60" textLength="74.69" lengthAdjust="spacingAndGlyphs">stress</tspan></text></g>
<g id="mid"><text x="217.38" y="781.20" font-size="28" textLength="67.84" lengthAdjust="spacingAndGlyphs" fill="#000">Basal</text>
<text x="205.71" y="813.70" font-size="28" textLength="89.59" lengthAdjust="spacingAndGlyphs" fill="#000">plasma</text>
<path d="M321.40 760.80V857.10A11.50 11.50 0 0 0 344.40 857.10V760.80Z" fill="#ececec" stroke="#8e8e8e" stroke-width="1"/>
<path d="M323.10 762.80V776.30H342.70V762.80Z" fill="#e2e4e4"/>
<path d="M324.10 764.80V776.30H339.90V769.80Q338.90 765.80 335.90 765.30Z" fill="#f3f4f4"/>
<path d="M322.30 775.50V856.80A10.60 10.60 0 0 0 343.50 856.80V775.50Z" fill="#a43c3f"/>
<path d="M322.30 856.80A10.60 10.60 0 0 0 343.50 856.80Q332.90 873.53 322.30 856.80Z" fill="#8f3336" opacity=".8"/>
<path d="M342.20 776.30V857.10" stroke="#983639" stroke-width="2.2"/>
<ellipse cx="332.90" cy="775.50" rx="10.60" ry="1.7" fill="#c45a5c"/>
<path d="M325.10 771.30V849.10" stroke="#f1d6d6" stroke-width=".8" opacity=".95"/>
<circle cx="325.30" cy="852.60" r=".9" fill="#e3b5b5"/>
<ellipse cx="332.90" cy="761.10" rx="11.50" ry="3.60" fill="#dcdcdc" stroke="#8e8e8e" stroke-width="1"/>
<ellipse cx="332.90" cy="761.40" rx="9.00" ry="2.20" fill="#efefef" stroke="#b5b5b5" stroke-width=".6"/>
<circle cx="336.90" cy="678.02" r="1.9" fill="#1b8fcc"/><circle cx="300.58" cy="681.67" r="1.9" fill="#1b8fcc"/><circle cx="365.93" cy="684.30" r="1.9" fill="#7fc6e6"/><circle cx="325.08" cy="685.75" r="1.9" fill="#7fc6e6"/><circle cx="345.22" cy="685.75" r="1.9" fill="#7fc6e6"/><circle cx="357.47" cy="688.53" r="1.9" fill="#7fc6e6"/><circle cx="310.35" cy="689.69" r="1.9" fill="#1b8fcc"/><circle cx="332.96" cy="689.69" r="1.9" fill="#1b8fcc"/><circle cx="286.28" cy="692.61" r="1.9" fill="#7fc6e6"/><circle cx="323.63" cy="697.72" r="1.9" fill="#1b8fcc"/><circle cx="296.49" cy="700.20" r="1.9" fill="#7fc6e6"/><circle cx="342.88" cy="702.09" r="1.9" fill="#1b8fcc"/><circle cx="309.62" cy="703.99" r="1.9" fill="#1b8fcc"/><circle cx="319.54" cy="705.01" r="1.9" fill="#1b8fcc"/><circle cx="332.96" cy="703.84" r="1.9" fill="#1b8fcc"/><circle cx="353.82" cy="708.95" r="1.9" fill="#7fc6e6"/><circle cx="298.53" cy="712.01" r="1.9" fill="#1b8fcc"/><circle cx="314.43" cy="712.74" r="1.9" fill="#1b8fcc"/><circle cx="325.52" cy="714.78" r="1.9" fill="#1b8fcc"/><circle cx="338.80" cy="715.95" r="1.9" fill="#1b8fcc"/><circle cx="310.35" cy="722.22" r="1.9" fill="#7fc6e6"/><circle cx="319.54" cy="723.54" r="1.9" fill="#1b8fcc"/><circle cx="332.96" cy="722.08" r="1.9" fill="#1b8fcc"/><circle cx="342.59" cy="723.54" r="1.9" fill="#1b8fcc"/><circle cx="318.67" cy="731.71" r="1.9" fill="#1b8fcc"/><circle cx="329.61" cy="731.71" r="1.9" fill="#1b8fcc"/><circle cx="338.50" cy="732.73" r="1.9" fill="#1b8fcc"/><circle cx="325.52" cy="741.77" r="1.9" fill="#1b8fcc"/><circle cx="331.94" cy="741.04" r="1.9" fill="#1b8fcc"/><circle cx="335.15" cy="745.71" r="1.9" fill="#1b8fcc"/><circle cx="331.94" cy="752.13" r="1.9" fill="#1b8fcc"/>
<text x="982.16" y="780.80" font-size="28" textLength="145.64" lengthAdjust="spacingAndGlyphs" fill="#000">Splenocyte</text>
<text x="983.36" y="813.80" font-size="28" textLength="143.48" lengthAdjust="spacingAndGlyphs" fill="#000">stimulation</text>
<path d="M1168.00 709.38C1168.36 706.93 1169.46 704.43 1170.94 702.81C1172.42 701.20 1174.69 700.29 1176.88 699.69C1179.06 699.08 1181.25 698.82 1184.06 699.19C1186.88 699.55 1190.57 700.68 1193.75 701.88C1196.93 703.07 1200.21 704.69 1203.12 706.38C1206.04 708.06 1209.08 709.94 1211.25 712.00C1213.42 714.06 1214.94 716.38 1216.12 718.75C1217.31 721.12 1217.94 723.75 1218.38 726.25C1218.81 728.75 1218.73 731.77 1218.75 733.75C1218.77 735.73 1218.25 736.61 1218.50 738.12C1218.75 739.64 1219.85 740.94 1220.25 742.81C1220.65 744.69 1221.02 746.93 1220.88 749.38C1220.73 751.82 1220.25 754.90 1219.38 757.50C1218.50 760.10 1217.19 762.92 1215.62 765.00C1214.06 767.08 1212.08 768.79 1210.00 770.00C1207.92 771.21 1205.21 772.04 1203.12 772.25C1201.04 772.46 1199.27 772.04 1197.50 771.25C1195.73 770.46 1193.94 769.17 1192.50 767.50C1191.06 765.83 1189.83 763.54 1188.88 761.25C1187.92 758.96 1187.31 755.94 1186.75 753.75C1186.19 751.56 1186.42 750.52 1185.50 748.12C1184.58 745.73 1182.69 741.98 1181.25 739.38C1179.81 736.77 1178.44 734.90 1176.88 732.50C1175.31 730.10 1173.23 727.50 1171.88 725.00C1170.52 722.50 1169.40 720.10 1168.75 717.50C1168.10 714.90 1167.64 711.82 1168.00 709.38Z" fill="#945f72"/>
<path d="M1187.50 708.44C1188.44 708.91 1191.67 709.95 1193.12 711.25C1194.58 712.55 1194.79 714.58 1196.25 716.25C1197.71 717.92 1200.21 719.48 1201.88 721.25C1203.54 723.02 1205.00 724.79 1206.25 726.88C1207.50 728.96 1208.59 731.56 1209.38 733.75C1210.16 735.94 1210.62 737.92 1210.94 740.00C1211.25 742.08 1211.09 744.17 1211.25 746.25C1211.41 748.33 1211.77 751.46 1211.88 752.50" fill="none" stroke="#82506a" stroke-width="1.3" opacity=".75" stroke-linecap="round"/>
<path d="M1210.00 715.00C1209.69 715.42 1208.75 716.77 1208.12 717.50C1207.50 718.23 1206.56 719.06 1206.25 719.38" fill="none" stroke="#82506a" stroke-width=".8" opacity=".6" stroke-linecap="round"/>
<path d="M1176.25 720.00C1176.77 721.67 1177.92 726.77 1179.38 730.00C1180.83 733.23 1183.23 736.67 1185.00 739.38C1186.77 742.08 1188.96 743.96 1190.00 746.25C1191.04 748.54 1191.04 751.98 1191.25 753.12" fill="none" stroke="#82506a" stroke-width="1.6" opacity=".45" stroke-linecap="round"/>
<path d="M1164.25 749.69C1165.00 749.24 1166.96 747.62 1168.75 747.00C1170.54 746.38 1172.71 745.98 1175.00 745.94C1177.29 745.90 1180.21 746.28 1182.50 746.75C1184.79 747.22 1186.98 748.08 1188.75 748.75C1190.52 749.42 1192.40 750.42 1193.12 750.75" fill="none" stroke="#8c7cc2" stroke-width="2.9"/>
<path d="M1180.62 730.00C1180.52 730.83 1180.36 733.33 1180.00 735.00C1179.64 736.67 1178.70 739.17 1178.44 740.00" fill="none" stroke="#8c7cc2" stroke-width="1.5"/>
<path d="M1189.06 739.06C1188.59 739.43 1187.24 740.57 1186.25 741.25C1185.26 741.93 1183.65 742.81 1183.12 743.12" fill="none" stroke="#8c7cc2" stroke-width="1.5"/>
<path d="M1162.81 745.94C1163.59 745.47 1165.68 743.75 1167.50 743.12C1169.32 742.50 1171.46 742.08 1173.75 742.19C1176.04 742.29 1178.85 743.07 1181.25 743.75C1183.65 744.43 1186.15 745.36 1188.12 746.25C1190.10 747.14 1192.29 748.59 1193.12 749.06" fill="none" stroke="#d9534f" stroke-width="3.1"/>
<path d="M1175.00 741.88C1175.42 740.73 1176.85 737.50 1177.50 735.00C1178.15 732.50 1178.65 728.23 1178.88 726.88" fill="none" stroke="#d9534f" stroke-width="1.7"/>
<path d="M1179.38 741.88C1180.10 741.51 1182.48 740.44 1183.75 739.69C1185.02 738.94 1186.46 737.76 1187.00 737.38" fill="none" stroke="#d9534f" stroke-width="1.5"/>
<path d="M1177.50 740.62L1179.38 738.75M1179.38 742.50L1181.88 741.25" stroke="#fbeaea" stroke-width=".8"/>
<circle cx="1205.00" cy="776.11" r="3.25" fill="url(#dD)"/><circle cx="1216.39" cy="777.78" r="3.25" fill="url(#dM)"/><circle cx="1226.11" cy="774.44" r="3.25" fill="url(#dL)"/><circle cx="1170.83" cy="778.89" r="3.25" fill="url(#dM)"/><circle cx="1179.72" cy="780.28" r="3.25" fill="url(#dL)"/><circle cx="1191.39" cy="782.36" r="3.25" fill="url(#dD)"/><circle cx="1160.83" cy="788.33" r="3.25" fill="url(#dL)"/><circle cx="1205.00" cy="790.00" r="3.25" fill="url(#dD)"/><circle cx="1228.61" cy="788.33" r="3.25" fill="url(#dL)"/><circle cx="1179.72" cy="792.78" r="3.25" fill="url(#dM)"/><circle cx="1170.83" cy="797.22" r="3.25" fill="url(#dM)"/><circle cx="1191.39" cy="797.22" r="3.25" fill="url(#dD)"/><circle cx="1215.00" cy="795.28" r="3.25" fill="url(#dD)"/><circle cx="1201.81" cy="804.17" r="3.25" fill="url(#dM)"/><circle cx="1184.44" cy="809.03" r="3.25" fill="url(#dM)"/><circle cx="1172.92" cy="811.94" r="3.25" fill="url(#dL)"/>
<path d="M1156.63 826.03 L1224.27 801.63 L1257.96 838.44 L1257.69 844.40 L1179.18 877.10 L1175.53 876.96 L1156.63 832.14 Z" fill="#d6e4e8" stroke="#a3bcc4" stroke-width="0.6" stroke-linejoin="round"/>
<path d="M1156.63 826.03 L1224.27 801.63 L1257.96 838.44 L1177.32 868.74 Z" fill="#e0ecef" stroke="#a3bcc4" stroke-width="0.6" stroke-linejoin="round"/>
<path d="M1177.32 868.74 L1257.96 838.44 L1257.69 844.40 L1179.18 877.10 Z" fill="#cddde2" stroke="#a3bcc4" stroke-width="0.6" stroke-linejoin="round"/>
<path d="M1156.63 826.03 L1177.32 868.74 L1179.18 877.10 L1175.53 876.96 L1156.63 832.14 Z" fill="#dbe8ec" stroke="#a3bcc4" stroke-width="0.6" stroke-linejoin="round"/>
<path d="M1162.27 824.18 L1176.53 858.79 L1175.99 860.98 L1186.14 862.77 L1253.85 837.44 L1253.45 834.79 Z" fill="#d3e1e5" stroke="#a3bcc4" stroke-width="0.6" stroke-linejoin="round"/>
<path d="M1162.27 824.18 L1224.27 802.43 L1253.45 834.79 L1186.14 860.32 L1176.53 858.79 Z" fill="#e7f0f2" stroke="#9db6be" stroke-width="0.6" stroke-linejoin="round"/>
<path d="M1171.24 827.49V833.89A9.6 6.5 0 0 0 1190.44 833.89V827.49Z" fill="#d9edf6" stroke="#c3dfec" stroke-width=".5" opacity=".9" transform="rotate(-8 1180.84 827.49)"/>
<ellipse cx="1180.84" cy="827.49" rx="9.6" ry="6.5" fill="#c5e4f3" stroke="#6f9caf" stroke-width=".8" transform="rotate(-8 1180.84 827.49)"/>
<path d="M1172.24 826.29A9 6 0 0 1 1186.34 822.59" fill="none" stroke="#f4fafc" stroke-width="1" transform="rotate(-8 1180.84 827.49)"/>
<path d="M1191.79 821.19V827.59A9.6 6.5 0 0 0 1210.99 827.59V821.19Z" fill="#d9edf6" stroke="#c3dfec" stroke-width=".5" opacity=".9" transform="rotate(-8 1201.39 821.19)"/>
<ellipse cx="1201.39" cy="821.19" rx="9.6" ry="6.5" fill="#c5e4f3" stroke="#6f9caf" stroke-width=".8" transform="rotate(-8 1201.39 821.19)"/>
<path d="M1192.79 819.99A9 6 0 0 1 1206.89 816.29" fill="none" stroke="#f4fafc" stroke-width="1" transform="rotate(-8 1201.39 821.19)"/>
<path d="M1211.02 814.89V821.29A9.6 6.5 0 0 0 1230.22 821.29V814.89Z" fill="#d9edf6" stroke="#c3dfec" stroke-width=".5" opacity=".9" transform="rotate(-8 1220.62 814.89)"/>
<ellipse cx="1220.62" cy="814.89" rx="9.6" ry="6.5" fill="#c5e4f3" stroke="#6f9caf" stroke-width=".8" transform="rotate(-8 1220.62 814.89)"/>
<path d="M1212.02 813.69A9 6 0 0 1 1226.12 809.99" fill="none" stroke="#f4fafc" stroke-width="1" transform="rotate(-8 1220.62 814.89)"/>
<path d="M1181.51 842.75V849.15A9.6 6.5 0 0 0 1200.71 849.15V842.75Z" fill="#d9edf6" stroke="#c3dfec" stroke-width=".5" opacity=".9" transform="rotate(-8 1191.11 842.75)"/>
<ellipse cx="1191.11" cy="842.75" rx="9.6" ry="6.5" fill="#c5e4f3" stroke="#6f9caf" stroke-width=".8" transform="rotate(-8 1191.11 842.75)"/>
<path d="M1182.51 841.55A9 6 0 0 1 1196.61 837.85" fill="none" stroke="#f4fafc" stroke-width="1" transform="rotate(-8 1191.11 842.75)"/>
<path d="M1202.73 835.45V841.85A9.6 6.5 0 0 0 1221.93 841.85V835.45Z" fill="#d9edf6" stroke="#c3dfec" stroke-width=".5" opacity=".9" transform="rotate(-8 1212.33 835.45)"/>
<ellipse cx="1212.33" cy="835.45" rx="9.6" ry="6.5" fill="#c5e4f3" stroke="#6f9caf" stroke-width=".8" transform="rotate(-8 1212.33 835.45)"/>
<path d="M1203.73 834.25A9 6 0 0 1 1217.83 830.55" fill="none" stroke="#f4fafc" stroke-width="1" transform="rotate(-8 1212.33 835.45)"/>
<path d="M1222.96 828.16V834.56A9.6 6.5 0 0 0 1242.16 834.56V828.16Z" fill="#d9edf6" stroke="#c3dfec" stroke-width=".5" opacity=".9" transform="rotate(-8 1232.56 828.16)"/>
<ellipse cx="1232.56" cy="828.16" rx="9.6" ry="6.5" fill="#c5e4f3" stroke="#6f9caf" stroke-width=".8" transform="rotate(-8 1232.56 828.16)"/>
<path d="M1223.96 826.96A9 6 0 0 1 1238.06 823.26" fill="none" stroke="#f4fafc" stroke-width="1" transform="rotate(-8 1232.56 828.16)"/></g>
<g id="panel-a"><path d="M181.70 312.80V674.20M170.90 313.30H181.70M170.90 385.38H181.70M170.90 457.46H181.70M170.90 529.54H181.70M170.90 601.62H181.70M170.90 673.70H181.70" stroke="#000" stroke-width="1" fill="none"/>
<text x="133.34" y="322.10" font-size="24" textLength="25.77" lengthAdjust="spacingAndGlyphs" fill="#000">10</text>
<text x="146.32" y="394.18" font-size="24" textLength="12.88" lengthAdjust="spacingAndGlyphs" fill="#000">8</text>
<text x="146.33" y="466.26" font-size="24" textLength="12.88" lengthAdjust="spacingAndGlyphs" fill="#000">6</text>
<text x="145.99" y="538.34" font-size="24" textLength="12.88" lengthAdjust="spacingAndGlyphs" fill="#000">4</text>
<text x="146.48" y="610.42" font-size="24" textLength="12.88" lengthAdjust="spacingAndGlyphs" fill="#000">2</text>
<text x="144.00" y="682.50" font-size="24" textLength="15.59" lengthAdjust="spacingAndGlyphs" fill="#000">0</text>
<text x="10.50" y="243.60" font-size="37" font-weight="bold" textLength="20.97" lengthAdjust="spacingAndGlyphs" fill="#000" stroke="#000" stroke-width="1.2" stroke-linejoin="round">a</text>
<text font-size="28" fill="#000"><tspan x="237.25" y="261.30" textLength="65.55" lengthAdjust="spacingAndGlyphs">LY6C</tspan><tspan x="302.17" y="249.00" textLength="17.23" lengthAdjust="spacingAndGlyphs" font-size="18.5">hi</tspan> <tspan x="325.24" y="261.30" textLength="142.73" lengthAdjust="spacingAndGlyphs">monocytes</tspan></text>
<text x="195.16" y="304.00" font-size="20" fill="#000">Restoration effect:</text>
<text x="196.22" y="327.80" font-size="20" font-style="italic" textLength="185.04" lengthAdjust="spacingAndGlyphs" fill="#000">P<tspan font-weight="normal" font-style="normal"> &lt; 0.01**, </tspan><tspan>q</tspan><tspan font-weight="normal" font-style="normal"> = 0.030†</tspan></text>
<text x="0" y="0" transform="translate(74.10 601.21) rotate(-90)" font-size="28" textLength="214.76" lengthAdjust="spacingAndGlyphs" fill="#000">LY6C<tspan font-size="18.5" dy="-12.3">hi</tspan><tspan dy="12.3"> monocyte</tspan></text>
<text x="0" y="0" transform="translate(106.30 664.03) rotate(-90)" font-size="28" textLength="346.65" lengthAdjust="spacingAndGlyphs" fill="#000">(CD11b+, LY6G-, LY6C<tspan font-size="18.5" dy="-12.3">hi</tspan><tspan dy="12.3">) (%)</tspan></text>
<g stroke="#000" stroke-width="3.2" fill="none" stroke-linejoin="round">
<path d="M248.60 352.70V474.80M226.10 352.70H271.10"/>
<path d="M248.60 571.70V579.30M226.10 579.30H271.10"/>
<rect x="206.00" y="476.40" width="86.10" height="93.70" fill="#8DA0CB"/>
<path d="M206.00 548.40H292.10"/>
</g>
<g class="pt">
<circle cx="248.6" cy="352.7" r="3.4"/>
<circle cx="248.6" cy="388.9" r="3.4"/>
<circle cx="248.6" cy="503.2" r="3.4"/>
<circle cx="255.9" cy="536.7" r="3.4"/>
<circle cx="241.3" cy="542.4" r="3.4"/>
<circle cx="241.3" cy="556.9" r="3.4"/>
<circle cx="255.9" cy="555.3" r="3.4"/>
<circle cx="241.3" cy="570.6" r="3.4"/>
<circle cx="255.9" cy="575.0" r="3.4"/>
<circle cx="241.3" cy="579.3" r="3.4"/>
</g>
<g stroke="#000" stroke-width="3.2" fill="none" stroke-linejoin="round">
<path d="M384.00 515.80V573.40M361.60 515.80H406.70"/>
<path d="M384.00 611.60V639.30M361.60 639.30H406.70"/>
<rect x="340.70" y="575.00" width="87.10" height="35.00" fill="#FF7F00"/>
<path d="M340.70 595.40H427.80"/>
</g>
<g class="pt">
<circle cx="384.0" cy="515.8" r="3.4"/>
<circle cx="384.0" cy="564.2" r="3.4"/>
<circle cx="369.6" cy="576.1" r="3.4"/>
<circle cx="384.0" cy="582.7" r="3.4"/>
<circle cx="384.0" cy="590.5" r="3.4"/>
<circle cx="384.0" cy="599.7" r="3.4"/>
<circle cx="369.6" cy="605.2" r="3.4"/>
<circle cx="384.0" cy="612.5" r="3.4"/>
<circle cx="398.5" cy="611.9" r="3.4"/>
<circle cx="384.0" cy="639.3" r="3.4"/>
</g>
<g stroke="#000" stroke-width="3.2" fill="none" stroke-linejoin="round">
<path d="M474.30 433.80V499.60M451.90 433.80H497.20"/>
<path d="M474.30 560.30V607.50M451.90 607.50H497.20"/>
<rect x="431.20" y="501.20" width="86.90" height="57.50" fill="#1B9E77"/>
<path d="M431.20 546.10H518.10"/>
</g>
<g class="pt">
<circle cx="474.3" cy="433.8" r="3.4"/>
<circle cx="474.3" cy="493.4" r="3.4"/>
<circle cx="474.3" cy="505.8" r="3.4"/>
<circle cx="481.6" cy="541.0" r="3.4"/>
<circle cx="467.2" cy="546.1" r="3.4"/>
<circle cx="481.6" cy="551.4" r="3.4"/>
<circle cx="467.2" cy="557.5" r="3.4"/>
<circle cx="481.6" cy="564.2" r="3.4"/>
<circle cx="474.3" cy="607.5" r="3.4"/>
</g>
<text x="377.35" y="505.60" font-size="34" textLength="13.17" lengthAdjust="spacingAndGlyphs" fill="#000">*</text></g>
<g id="panel-b"><path d="M736.30 312.80V674.20M725.50 313.30H736.30M725.50 403.40H736.30M725.50 493.50H736.30M725.50 583.60H736.30M725.50 673.70H736.30" stroke="#000" stroke-width="1" fill="none"/>
<text x="684.80" y="322.10" font-size="24" textLength="29.23" lengthAdjust="spacingAndGlyphs" fill="#000">40</text>
<text x="684.80" y="412.20" font-size="24" textLength="29.23" lengthAdjust="spacingAndGlyphs" fill="#000">30</text>
<text x="684.80" y="502.30" font-size="24" textLength="29.23" lengthAdjust="spacingAndGlyphs" fill="#000">20</text>
<text x="684.80" y="592.40" font-size="24" textLength="29.23" lengthAdjust="spacingAndGlyphs" fill="#000">10</text>
<text x="698.80" y="682.50" font-size="24" textLength="15.59" lengthAdjust="spacingAndGlyphs" fill="#000">0</text>
<text x="601.14" y="243.20" font-size="37" font-weight="bold" textLength="26.55" lengthAdjust="spacingAndGlyphs" fill="#000" stroke="#000" stroke-width="1.2" stroke-linejoin="round">b</text>
<text font-size="28" fill="#000"><tspan x="784.86" y="261.30" textLength="90.04" lengthAdjust="spacingAndGlyphs">CD11b+</tspan> <tspan x="881.12" y="261.30" textLength="145.76" lengthAdjust="spacingAndGlyphs">neutrophils</tspan></text>
<text x="751.36" y="304.30" font-size="20" fill="#000">Restoration effect:</text>
<text x="752.41" y="328.00" font-size="20" font-style="italic" textLength="181.78" lengthAdjust="spacingAndGlyphs" fill="#000">P<tspan font-weight="normal" font-style="normal"> &lt; 0.05*, </tspan><tspan>q</tspan><tspan font-weight="normal" font-style="normal"> = 0.030†</tspan></text>
<text x="0" y="0" transform="translate(626.20 567.22) rotate(-90)" font-size="28" textLength="155.33" lengthAdjust="spacingAndGlyphs" fill="#000">Neutrophils</text>
<text x="0" y="0" transform="translate(658.90 618.06) rotate(-90)" font-size="28" textLength="249.33" lengthAdjust="spacingAndGlyphs" fill="#000">(CD11b+, LY6G+) (%)</text>
<g stroke="#000" stroke-width="3.2" fill="none" stroke-linejoin="round">
<path d="M802.70 395.50V435.90M780.00 395.50H825.20"/>
<path d="M802.70 571.50V611.40M780.00 611.40H825.20"/>
<rect x="759.60" y="437.50" width="86.20" height="132.40" fill="#8DA0CB"/>
<path d="M759.60 538.50H845.80"/>
</g>
<g class="pt">
<circle cx="802.7" cy="395.5" r="3.4"/>
<circle cx="802.7" cy="416.2" r="3.4"/>
<circle cx="802.7" cy="442.3" r="3.4"/>
<circle cx="802.7" cy="474.6" r="3.4"/>
<circle cx="802.7" cy="527.3" r="3.4"/>
<circle cx="795.4" cy="550.4" r="3.4"/>
<circle cx="809.8" cy="554.6" r="3.4"/>
<circle cx="795.4" cy="572.4" r="3.4"/>
<circle cx="809.8" cy="572.4" r="3.4"/>
<circle cx="802.7" cy="611.4" r="3.4"/>
</g>
<g stroke="#000" stroke-width="3.2" fill="none" stroke-linejoin="round">
<path d="M938.10 561.40V569.90M915.50 561.40H960.60"/>
<path d="M938.10 609.60V631.10M915.50 631.10H960.60"/>
<rect x="895.10" y="571.50" width="86.40" height="36.50" fill="#FF7F00"/>
<path d="M895.10 587.60H981.50"/>
</g>
<g class="pt">
<circle cx="938.1" cy="561.4" r="3.4"/>
<circle cx="923.7" cy="568.1" r="3.4"/>
<circle cx="938.1" cy="571.3" r="3.4"/>
<circle cx="923.7" cy="587.6" r="3.4"/>
<circle cx="952.8" cy="586.6" r="3.4"/>
<circle cx="938.1" cy="589.6" r="3.4"/>
<circle cx="938.1" cy="597.9" r="3.4"/>
<circle cx="938.1" cy="622.6" r="3.4"/>
<circle cx="938.1" cy="631.1" r="3.4"/>
</g>
<g stroke="#000" stroke-width="3.2" fill="none" stroke-linejoin="round">
<path d="M1028.70 451.90V510.60M1006.00 451.90H1051.10"/>
<path d="M1028.70 584.80V592.80M1006.00 592.80H1051.10"/>
<rect x="985.60" y="512.20" width="86.10" height="71.00" fill="#1B9E77"/>
<path d="M985.60 565.30H1071.70"/>
</g>
<g class="pt">
<circle cx="1028.7" cy="451.9" r="3.4"/>
<circle cx="1028.7" cy="492.7" r="3.4"/>
<circle cx="1028.7" cy="527.1" r="3.4"/>
<circle cx="1028.7" cy="553.2" r="3.4"/>
<circle cx="1028.7" cy="565.3" r="3.4"/>
<circle cx="1036.0" cy="576.1" r="3.4"/>
<circle cx="1021.3" cy="583.2" r="3.4"/>
<circle cx="1036.0" cy="587.8" r="3.4"/>
<circle cx="1021.3" cy="592.8" r="3.4"/>
</g>
<text x="931.35" y="548.40" font-size="34" textLength="13.17" lengthAdjust="spacingAndGlyphs" fill="#000">*</text></g>
<g id="panel-c"><path d="M1275.50 312.80V674.22M1264.70 313.30H1275.50M1264.70 373.37H1275.50M1264.70 433.44H1275.50M1264.70 493.51H1275.50M1264.70 553.58H1275.50M1264.70 613.65H1275.50M1264.70 673.72H1275.50" stroke="#000" stroke-width="1" fill="none"/>
<text x="1210.57" y="322.10" font-size="24" textLength="42.22" lengthAdjust="spacingAndGlyphs" fill="#000">100</text>
<text x="1224.64" y="382.17" font-size="24" textLength="28.14" lengthAdjust="spacingAndGlyphs" fill="#000">90</text>
<text x="1224.64" y="442.24" font-size="24" textLength="28.14" lengthAdjust="spacingAndGlyphs" fill="#000">80</text>
<text x="1224.64" y="502.31" font-size="24" textLength="28.14" lengthAdjust="spacingAndGlyphs" fill="#000">70</text>
<text x="1224.64" y="562.38" font-size="24" textLength="28.14" lengthAdjust="spacingAndGlyphs" fill="#000">60</text>
<text x="1224.64" y="622.45" font-size="24" textLength="28.14" lengthAdjust="spacingAndGlyphs" fill="#000">50</text>
<text x="1224.64" y="682.52" font-size="24" textLength="28.14" lengthAdjust="spacingAndGlyphs" fill="#000">40</text>
<text x="1131.51" y="243.20" font-size="37" font-weight="bold" textLength="22.57" lengthAdjust="spacingAndGlyphs" fill="#000" stroke="#000" stroke-width="1.2" stroke-linejoin="round">c</text>
<text font-size="28" fill="#000"><tspan x="1322.54" y="261.30" textLength="99.29" lengthAdjust="spacingAndGlyphs">CD62L+</tspan> <tspan x="1428.36" y="261.30" textLength="141.40" lengthAdjust="spacingAndGlyphs">monocytes</tspan></text>
<text x="1291.86" y="304.00" font-size="20" fill="#000">Restoration effect:</text>
<text x="1292.92" y="328.00" font-size="20" font-style="italic" textLength="185.64" lengthAdjust="spacingAndGlyphs" fill="#000">P<tspan font-weight="normal" font-style="normal"> &lt; 0.01**, </tspan><tspan>q</tspan><tspan font-weight="normal" font-style="normal"> = 0.030†</tspan></text>
<text x="0" y="0" transform="translate(1153.60 616.83) rotate(-90)" font-size="28" fill="#000">CD62L+ monocytes</text>
<text x="0" y="0" transform="translate(1186.00 653.99) rotate(-90)" font-size="28" textLength="321.66" lengthAdjust="spacingAndGlyphs" fill="#000">relative to monocytes (%)</text>
<g stroke="#000" stroke-width="3.2" fill="none" stroke-linejoin="round">
<path d="M1342.70 511.00V521.60M1320.00 511.00H1365.40"/>
<path d="M1342.70 563.70V587.10M1320.00 587.10H1365.40"/>
<rect x="1299.80" y="523.20" width="86.20" height="38.90" fill="#8DA0CB"/>
<path d="M1299.80 546.10H1386.00"/>
</g>
<g class="pt">
<circle cx="1349.8" cy="510.6" r="3.4"/>
<circle cx="1335.3" cy="514.0" r="3.4"/>
<circle cx="1342.7" cy="524.8" r="3.4"/>
<circle cx="1342.7" cy="536.7" r="3.4"/>
<circle cx="1328.2" cy="544.0" r="3.4"/>
<circle cx="1357.1" cy="549.3" r="3.4"/>
<circle cx="1342.7" cy="551.1" r="3.4"/>
<circle cx="1357.1" cy="562.6" r="3.4"/>
<circle cx="1342.7" cy="566.7" r="3.4"/>
<circle cx="1342.7" cy="587.1" r="3.4"/>
</g>
<g stroke="#000" stroke-width="3.2" fill="none" stroke-linejoin="round">
<path d="M1478.60 463.10V524.50M1456.10 463.10H1501.30"/>
<path d="M1478.60 599.00V609.30M1456.10 609.30H1501.30"/>
<rect x="1435.00" y="526.10" width="87.30" height="71.30" fill="#FF7F00"/>
<path d="M1435.00 560.30H1522.30"/>
</g>
<g class="pt">
<circle cx="1478.6" cy="463.1" r="3.4"/>
<circle cx="1478.6" cy="519.0" r="3.4"/>
<circle cx="1478.6" cy="526.4" r="3.4"/>
<circle cx="1478.6" cy="536.9" r="3.4"/>
<circle cx="1478.6" cy="552.0" r="3.4"/>
<circle cx="1471.2" cy="569.7" r="3.4"/>
<circle cx="1485.7" cy="572.7" r="3.4"/>
<circle cx="1478.6" cy="596.3" r="3.4"/>
<circle cx="1485.7" cy="606.4" r="3.4"/>
<circle cx="1471.2" cy="609.6" r="3.4"/>
</g>
<g stroke="#000" stroke-width="3.2" fill="none" stroke-linejoin="round">
<path d="M1568.90 375.80V409.10M1546.40 375.80H1591.80"/>
<path d="M1568.90 493.80V548.60M1546.40 548.60H1591.80"/>
<rect x="1525.50" y="410.70" width="86.70" height="81.50" fill="#1B9E77"/>
<path d="M1525.50 467.30H1612.20"/>
</g>
<g class="pt">
<circle cx="1568.8" cy="375.8" r="3.4"/>
<circle cx="1568.8" cy="395.3" r="3.4"/>
<circle cx="1568.8" cy="422.3" r="3.4"/>
<circle cx="1568.8" cy="459.2" r="3.4"/>
<circle cx="1568.8" cy="467.5" r="3.4"/>
<circle cx="1576.2" cy="478.0" r="3.4"/>
<circle cx="1561.7" cy="480.1" r="3.4"/>
<circle cx="1568.8" cy="507.6" r="3.4"/>
<circle cx="1568.8" cy="548.6" r="3.4"/>
</g>
<text font-size="34" fill="#000"><tspan x="1547.15" y="365.10" textLength="13.17" lengthAdjust="spacingAndGlyphs">*</tspan><tspan x="1562.05" y="365.10" textLength="13.17" lengthAdjust="spacingAndGlyphs">*</tspan><tspan x="1576.96" y="365.10" textLength="13.07" lengthAdjust="spacingAndGlyphs">*</tspan></text></g>
<g id="panel-d"><path d="M130.50 1065.50V1426.89M119.70 1066.00H130.50M119.70 1186.13H130.50M119.70 1306.26H130.50M119.70 1426.39H130.50" stroke="#000" stroke-width="1" fill="none"/>
<text x="62.53" y="1074.80" font-size="24" textLength="44.92" lengthAdjust="spacingAndGlyphs" fill="#000">600</text>
<text x="62.53" y="1194.93" font-size="24" textLength="44.92" lengthAdjust="spacingAndGlyphs" fill="#000">400</text>
<text x="62.53" y="1315.06" font-size="24" textLength="44.92" lengthAdjust="spacingAndGlyphs" fill="#000">200</text>
<text x="92.20" y="1435.19" font-size="24" textLength="15.59" lengthAdjust="spacingAndGlyphs" fill="#000">0</text>
<text x="10.22" y="946.20" font-size="37" font-weight="bold" textLength="26.55" lengthAdjust="spacingAndGlyphs" fill="#000" stroke="#000" stroke-width="1.2" stroke-linejoin="round">d</text>
<text x="192.69" y="955.60" font-size="28" textLength="89.81" lengthAdjust="spacingAndGlyphs" fill="#000">Plasma</text>
<text x="207.53" y="1000.90" font-size="28" textLength="61.27" lengthAdjust="spacingAndGlyphs" fill="#000">IP-10</text>
<text x="150.66" y="1039.50" font-size="20" fill="#000">Restoration effect:</text>
<text x="151.72" y="1064.40" font-size="20" font-style="italic" textLength="177.23" lengthAdjust="spacingAndGlyphs" fill="#000">P<tspan font-weight="normal" font-style="normal"> &lt; 0.05*, </tspan><tspan>q</tspan><tspan font-weight="normal" font-style="normal"> = 0.075†</tspan></text>
<text x="292.82" y="1091.50" font-size="20" font-style="italic" textLength="80.93" lengthAdjust="spacingAndGlyphs" fill="#000">P<tspan font-weight="normal" font-style="normal"> = 0.054</tspan></text>
<text x="384.13" y="1280.70" font-size="20" font-style="italic" textLength="79.89" lengthAdjust="spacingAndGlyphs" fill="#000">P<tspan font-weight="normal" font-style="normal"> = 0.070</tspan></text>
<text x="0" y="0" transform="translate(35.30 1335.48) rotate(-90)" font-size="28" textLength="175.75" lengthAdjust="spacingAndGlyphs" fill="#000">IP-10 (pg ml<tspan font-size="18.5" dy="-12.3">−1</tspan><tspan dy="12.3">)</tspan></text>
<g stroke="#000" stroke-width="3.2" fill="none" stroke-linejoin="round">
<path d="M197.50 1293.80V1305.90M175.00 1293.80H220.10"/>
<path d="M197.50 1362.50V1373.30M175.00 1373.30H220.10"/>
<rect x="154.40" y="1307.50" width="86.60" height="53.40" fill="#8DA0CB"/>
<path d="M154.40 1346.50H241.00"/>
</g>
<g class="pt">
<circle cx="197.5" cy="1293.1" r="3.4"/>
<circle cx="190.3" cy="1305.7" r="3.4"/>
<circle cx="204.8" cy="1305.3" r="3.4"/>
<circle cx="197.5" cy="1326.6" r="3.4"/>
<circle cx="197.5" cy="1346.5" r="3.4"/>
<circle cx="183.0" cy="1358.0" r="3.4"/>
<circle cx="212.1" cy="1360.9" r="3.4"/>
<circle cx="197.5" cy="1365.3" r="3.4"/>
<circle cx="197.5" cy="1373.3" r="3.4"/>
</g>
<g stroke="#000" stroke-width="3.2" fill="none" stroke-linejoin="round">
<path d="M333.10 1106.10V1217.70M310.70 1106.10H355.80"/>
<path d="M333.10 1345.10V1348.10M310.70 1348.10H355.80"/>
<rect x="290.00" y="1219.30" width="86.60" height="124.20" fill="#FF7F00"/>
<path d="M290.00 1294.30H376.60"/>
</g>
<g class="pt">
<circle cx="333.1" cy="1106.1" r="3.4"/>
<circle cx="333.1" cy="1164.8" r="3.4"/>
<circle cx="333.1" cy="1235.8" r="3.4"/>
<circle cx="333.1" cy="1262.2" r="3.4"/>
<circle cx="333.1" cy="1278.2" r="3.4"/>
<circle cx="333.1" cy="1310.3" r="3.4"/>
<circle cx="333.1" cy="1331.4" r="3.4"/>
<circle cx="333.1" cy="1345.1" r="3.4"/>
<circle cx="347.5" cy="1345.6" r="3.4"/>
<circle cx="318.7" cy="1348.1" r="3.4"/>
</g>
<g stroke="#000" stroke-width="3.2" fill="none" stroke-linejoin="round">
<path d="M423.60 1293.80V1301.10M401.20 1293.80H446.50"/>
<path d="M423.60 1368.00V1375.80M401.20 1375.80H446.50"/>
<rect x="379.80" y="1302.70" width="87.40" height="63.70" fill="#1B9E77"/>
<path d="M379.80 1341.90H467.20"/>
</g>
<g class="pt">
<circle cx="423.6" cy="1293.1" r="3.4"/>
<circle cx="423.6" cy="1300.7" r="3.4"/>
<circle cx="416.3" cy="1339.4" r="3.4"/>
<circle cx="430.7" cy="1342.6" r="3.4"/>
<circle cx="416.3" cy="1349.0" r="3.4"/>
<circle cx="423.6" cy="1368.7" r="3.4"/>
<circle cx="423.6" cy="1375.8" r="3.4"/>
</g></g>
<g id="panel-e"><path d="M670.30 1051.50V1412.50M659.50 1052.00H670.30M659.50 1142.00H670.30M659.50 1232.00H670.30M659.50 1322.00H670.30M659.50 1412.00H670.30" stroke="#000" stroke-width="1" fill="none"/>
<text x="603.29" y="1060.80" font-size="24" textLength="44.14" lengthAdjust="spacingAndGlyphs" fill="#000">400</text>
<text x="603.29" y="1150.80" font-size="24" textLength="44.14" lengthAdjust="spacingAndGlyphs" fill="#000">300</text>
<text x="603.29" y="1240.80" font-size="24" textLength="44.14" lengthAdjust="spacingAndGlyphs" fill="#000">200</text>
<text x="603.29" y="1330.80" font-size="24" textLength="44.14" lengthAdjust="spacingAndGlyphs" fill="#000">100</text>
<text x="632.20" y="1420.80" font-size="24" textLength="15.59" lengthAdjust="spacingAndGlyphs" fill="#000">0</text>
<text x="526.39" y="947.80" font-size="37" font-weight="bold" textLength="24.42" lengthAdjust="spacingAndGlyphs" fill="#000" stroke="#000" stroke-width="1.2" stroke-linejoin="round">e</text>
<text x="848.72" y="955.00" font-size="28" textLength="172.38" lengthAdjust="spacingAndGlyphs" fill="#000">Unstimulated</text>
<text x="719.61" y="1000.90" font-size="28" textLength="74.44" lengthAdjust="spacingAndGlyphs" fill="#000">TNF-α</text>
<text x="913.99" y="1000.90" font-size="28" textLength="48.65" lengthAdjust="spacingAndGlyphs" fill="#000">IL-6</text>
<text x="1084.53" y="1000.90" font-size="28" textLength="58.46" lengthAdjust="spacingAndGlyphs" fill="#000">IL-12</text>
<text x="681.58" y="1052.20" font-size="18.5" fill="#000">Restoration effects:</text>
<text x="682.26" y="1071.80" font-size="18.5" font-style="italic" textLength="166.92" lengthAdjust="spacingAndGlyphs" fill="#000">P<tspan font-weight="normal" font-style="normal"> &lt; 0.05*, </tspan><tspan>q</tspan><tspan font-weight="normal" font-style="normal"> = 0.075†</tspan></text>
<text x="860.06" y="1071.80" font-size="18.5" font-style="italic" textLength="166.72" lengthAdjust="spacingAndGlyphs" fill="#000">P<tspan font-weight="normal" font-style="normal"> &lt; 0.05*, </tspan><tspan>q</tspan><tspan font-weight="normal" font-style="normal"> = 0.010†</tspan></text>
<text x="1041.66" y="1071.80" font-size="18.5" font-style="italic" textLength="167.03" lengthAdjust="spacingAndGlyphs" fill="#000">P<tspan font-weight="normal" font-style="normal"> &lt; 0.05*, </tspan><tspan>q</tspan><tspan font-weight="normal" font-style="normal"> = 0.075†</tspan></text>
<text x="794.01" y="1368.90" font-size="13.4" font-style="italic" textLength="54.34" lengthAdjust="spacingAndGlyphs" fill="#000">P<tspan font-weight="normal" font-style="normal"> = 0.068</tspan></text>
<text x="971.41" y="1301.10" font-size="13.4" font-style="italic" textLength="54.24" lengthAdjust="spacingAndGlyphs" fill="#000">P<tspan font-weight="normal" font-style="normal"> = 0.056</tspan></text>
<text x="0" y="0" transform="translate(546.90 1317.73) rotate(-90)" font-size="28" textLength="170.89" lengthAdjust="spacingAndGlyphs" fill="#000">Inflammatory</text>
<text x="0" y="0" transform="translate(578.90 1349.51) rotate(-90)" font-size="28" textLength="236.27" lengthAdjust="spacingAndGlyphs" fill="#000">cytokines (pg ml<tspan font-size="18.5" dy="-12.3">−1</tspan><tspan dy="12.3">)</tspan></text>
<path d="M850.5 1052V1412" stroke="#8a8a8a" stroke-width="1" stroke-dasharray="1 1.6" fill="none"/>
<path d="M1030.4 1052V1412" stroke="#8a8a8a" stroke-width="1" stroke-dasharray="1 1.6" fill="none"/>
<g stroke="#000" stroke-width="3.2" fill="none" stroke-linejoin="round">
<path d="M705.80 1359.60V1380.00M693.80 1359.60H717.80"/>
<path d="M705.80 1388.90V1396.70M693.80 1396.70H717.80"/>
<rect x="683.40" y="1381.60" width="45.00" height="5.70" fill="#8DA0CB"/>
</g>
<g class="pt">
<circle cx="705.8" cy="1358.9" r="3.4"/>
<circle cx="693.3" cy="1377.8" r="3.4"/>
<circle cx="685.6" cy="1380.4" r="3.4"/>
<circle cx="717.8" cy="1381.6" r="3.4"/>
<circle cx="726.0" cy="1381.1" r="3.4"/>
<circle cx="701.8" cy="1384.0" r="3.4"/>
<circle cx="710.0" cy="1382.7" r="3.4"/>
<circle cx="710.0" cy="1392.9" r="3.4"/>
<circle cx="701.8" cy="1396.7" r="3.4"/>
</g>
<g stroke="#000" stroke-width="3.2" fill="none" stroke-linejoin="round">
<path d="M766.00 1148.20V1212.20M754.00 1148.20H778.00"/>
<path d="M766.00 1386.50V1386.70M754.00 1386.70H778.00"/>
<rect x="743.80" y="1213.80" width="44.60" height="171.10" fill="#FF7F00"/>
<path d="M743.80 1377.30H788.40"/>
</g>
<g class="pt">
<circle cx="766.0" cy="1147.8" r="3.4"/>
<circle cx="766.0" cy="1170.0" r="3.4"/>
<circle cx="766.0" cy="1337.8" r="3.4"/>
<circle cx="780.2" cy="1374.0" r="3.4"/>
<circle cx="751.1" cy="1378.9" r="3.4"/>
<circle cx="766.0" cy="1385.6" r="3.4"/>
<circle cx="780.2" cy="1386.7" r="3.4"/>
<circle cx="751.1" cy="1388.2" r="3.4"/>
</g>
<g stroke="#000" stroke-width="3.2" fill="none" stroke-linejoin="round">
<path d="M814.00 1383.30V1385.10M802.20 1383.30H825.60"/>
<path d="M814.00 1391.60V1394.90M802.20 1394.90H825.60"/>
<rect x="791.60" y="1386.70" width="44.60" height="3.30" fill="#1B9E77"/>
</g>
<g class="pt">
<circle cx="793.3" cy="1382.7" r="3.4"/>
<circle cx="809.6" cy="1382.9" r="3.4"/>
<circle cx="801.6" cy="1388.2" r="3.4"/>
<circle cx="817.8" cy="1388.2" r="3.4"/>
<circle cx="825.6" cy="1386.7" r="3.4"/>
<circle cx="834.4" cy="1388.4" r="3.4"/>
<circle cx="793.3" cy="1391.8" r="3.4"/>
<circle cx="809.6" cy="1390.7" r="3.4"/>
<circle cx="825.6" cy="1395.1" r="3.4"/>
</g>
<g stroke="#000" stroke-width="3.2" fill="none" stroke-linejoin="round">
<path d="M886.20 1322.40V1330.00M874.20 1322.40H898.20"/>
<path d="M886.20 1367.80V1383.10M874.20 1383.10H898.20"/>
<rect x="863.80" y="1331.60" width="45.00" height="34.60" fill="#8DA0CB"/>
<path d="M863.80 1342.20H908.80"/>
</g>
<g class="pt">
<circle cx="878.9" cy="1322.2" r="3.4"/>
<circle cx="893.3" cy="1326.7" r="3.4"/>
<circle cx="878.9" cy="1332.7" r="3.4"/>
<circle cx="893.3" cy="1338.9" r="3.4"/>
<circle cx="878.9" cy="1342.2" r="3.4"/>
<circle cx="893.3" cy="1348.9" r="3.4"/>
<circle cx="886.2" cy="1360.7" r="3.4"/>
<circle cx="886.2" cy="1374.9" r="3.4"/>
<circle cx="886.2" cy="1383.1" r="3.4"/>
</g>
<g stroke="#000" stroke-width="3.2" fill="none" stroke-linejoin="round">
<path d="M946.20 1262.90V1302.20M934.40 1262.90H958.40"/>
<rect x="924.30" y="1303.80" width="44.80" height="69.50" fill="#FF7F00"/>
<path d="M924.30 1345.60H969.10"/>
</g>
<g class="pt">
<circle cx="946.2" cy="1262.2" r="3.4"/>
<circle cx="946.2" cy="1314.7" r="3.4"/>
<circle cx="946.2" cy="1337.1" r="3.4"/>
<circle cx="946.2" cy="1353.8" r="3.4"/>
<circle cx="939.1" cy="1375.6" r="3.4"/>
<circle cx="953.3" cy="1375.6" r="3.4"/>
</g>
<g stroke="#000" stroke-width="3.2" fill="none" stroke-linejoin="round">
<path d="M994.70 1315.60V1342.90M982.70 1315.60H1006.70"/>
<path d="M994.70 1363.30V1370.00M982.70 1370.00H1006.70"/>
<rect x="972.30" y="1344.50" width="44.50" height="17.20" fill="#1B9E77"/>
</g>
<g class="pt">
<circle cx="994.7" cy="1315.1" r="3.4"/>
<circle cx="994.7" cy="1334.0" r="3.4"/>
<circle cx="994.7" cy="1350.4" r="3.4"/>
<circle cx="974.4" cy="1358.2" r="3.4"/>
<circle cx="984.4" cy="1363.3" r="3.4"/>
<circle cx="994.7" cy="1364.0" r="3.4"/>
<circle cx="1004.9" cy="1364.4" r="3.4"/>
<circle cx="1015.1" cy="1361.8" r="3.4"/>
<circle cx="984.4" cy="1370.4" r="3.4"/>
</g>
<g stroke="#000" stroke-width="3.2" fill="none" stroke-linejoin="round">
<path d="M1066.90 1233.60V1238.20M1054.90 1233.60H1078.90"/>
<path d="M1066.90 1321.80V1373.10M1054.90 1373.10H1078.90"/>
<rect x="1044.90" y="1239.80" width="44.20" height="80.40" fill="#8DA0CB"/>
<path d="M1044.90 1285.60H1089.10"/>
</g>
<g class="pt">
<circle cx="1066.9" cy="1233.3" r="3.4"/>
<circle cx="1052.4" cy="1235.6" r="3.4"/>
<circle cx="1081.3" cy="1238.4" r="3.4"/>
<circle cx="1066.9" cy="1261.6" r="3.4"/>
<circle cx="1066.9" cy="1274.0" r="3.4"/>
<circle cx="1052.4" cy="1298.0" r="3.4"/>
<circle cx="1066.9" cy="1304.7" r="3.4"/>
<circle cx="1066.9" cy="1320.0" r="3.4"/>
<circle cx="1066.9" cy="1328.4" r="3.4"/>
<circle cx="1066.9" cy="1373.1" r="3.4"/>
</g>
<g stroke="#000" stroke-width="3.2" fill="none" stroke-linejoin="round">
<path d="M1126.90 1168.00V1186.70M1114.90 1168.00H1138.90"/>
<path d="M1126.90 1302.70V1312.20M1114.90 1312.20H1138.90"/>
<rect x="1104.50" y="1188.30" width="45.00" height="112.80" fill="#FF7F00"/>
<path d="M1104.50 1222.20H1149.50"/>
</g>
<g class="pt">
<circle cx="1126.9" cy="1167.8" r="3.4"/>
<circle cx="1126.9" cy="1176.7" r="3.4"/>
<circle cx="1119.6" cy="1215.8" r="3.4"/>
<circle cx="1134.4" cy="1215.1" r="3.4"/>
<circle cx="1126.9" cy="1230.2" r="3.4"/>
<circle cx="1126.9" cy="1283.3" r="3.4"/>
<circle cx="1134.0" cy="1308.9" r="3.4"/>
<circle cx="1119.6" cy="1312.7" r="3.4"/>
</g>
<g stroke="#000" stroke-width="3.2" fill="none" stroke-linejoin="round">
<path d="M1175.10 1245.80V1270.70M1163.10 1245.80H1187.30"/>
<path d="M1175.10 1309.30V1334.00M1163.10 1334.00H1187.30"/>
<rect x="1152.70" y="1272.30" width="44.10" height="35.40" fill="#1B9E77"/>
<path d="M1152.70 1289.60H1196.80"/>
</g>
<g class="pt">
<circle cx="1175.1" cy="1245.6" r="3.4"/>
<circle cx="1182.2" cy="1266.7" r="3.4"/>
<circle cx="1167.8" cy="1274.4" r="3.4"/>
<circle cx="1182.2" cy="1283.3" r="3.4"/>
<circle cx="1167.8" cy="1290.0" r="3.4"/>
<circle cx="1182.2" cy="1292.7" r="3.4"/>
<circle cx="1175.1" cy="1301.1" r="3.4"/>
<circle cx="1175.1" cy="1318.9" r="3.4"/>
<circle cx="1175.1" cy="1334.0" r="3.4"/>
</g></g>
<g id="panel-f"><path d="M1396.00 1057.20V1418.40M1385.20 1057.70H1396.00M1385.20 1147.75H1396.00M1385.20 1237.80H1396.00M1385.20 1327.85H1396.00M1385.20 1417.90H1396.00" stroke="#000" stroke-width="1" fill="none"/>
<text x="1308.27" y="1066.50" font-size="24" textLength="65.25" lengthAdjust="spacingAndGlyphs" fill="#000">8,000</text>
<text x="1308.27" y="1156.55" font-size="24" textLength="65.25" lengthAdjust="spacingAndGlyphs" fill="#000">6,000</text>
<text x="1308.27" y="1246.60" font-size="24" textLength="65.25" lengthAdjust="spacingAndGlyphs" fill="#000">4,000</text>
<text x="1308.27" y="1336.65" font-size="24" textLength="65.25" lengthAdjust="spacingAndGlyphs" fill="#000">2,000</text>
<text x="1358.30" y="1426.70" font-size="24" textLength="15.59" lengthAdjust="spacingAndGlyphs" fill="#000">0</text>
<text x="1260.66" y="945.90" font-size="37" font-weight="bold" textLength="14.46" lengthAdjust="spacingAndGlyphs" fill="#000" stroke="#000" stroke-width="1.2" stroke-linejoin="round">f</text>
<text font-size="28" fill="#000"><tspan x="1457.94" y="955.60" textLength="52.73" lengthAdjust="spacingAndGlyphs">Con</tspan> <tspan x="1517.45" y="955.60" textLength="15.49" lengthAdjust="spacingAndGlyphs">A</tspan> <tspan x="1539.97" y="955.60" textLength="135.44" lengthAdjust="spacingAndGlyphs">stimulated</tspan></text>
<text x="1475.90" y="1001.00" font-size="28" textLength="48.54" lengthAdjust="spacingAndGlyphs" fill="#000">IL-6</text>
<text x="1411.87" y="1047.30" font-size="18.7" fill="#000">Restoration effect:</text>
<text x="1412.86" y="1072.00" font-size="18.7" font-style="italic" textLength="166.02" lengthAdjust="spacingAndGlyphs" fill="#000">P<tspan font-weight="normal" font-style="normal"> &lt; 0.05*, </tspan><tspan>q</tspan><tspan font-weight="normal" font-style="normal"> = 0.076†</tspan></text>
<text x="0" y="0" transform="translate(1281.70 1319.47) rotate(-90)" font-size="28" textLength="163.09" lengthAdjust="spacingAndGlyphs" fill="#000">IL-6 (pg ml<tspan font-size="18.5" dy="-12.3">−1</tspan><tspan dy="12.3">)</tspan></text>
<g stroke="#000" stroke-width="3.2" fill="none" stroke-linejoin="round">
<path d="M1463.60 1238.30V1266.80M1441.10 1238.30H1486.30"/>
<path d="M1463.60 1318.80V1380.60M1441.10 1380.60H1486.30"/>
<rect x="1420.30" y="1268.40" width="86.60" height="48.80" fill="#8DA0CB"/>
<path d="M1420.30 1303.40H1506.90"/>
</g>
<g class="pt">
<circle cx="1463.6" cy="1237.7" r="3.4"/>
<circle cx="1463.6" cy="1258.5" r="3.4"/>
<circle cx="1456.5" cy="1270.0" r="3.4"/>
<circle cx="1470.9" cy="1268.8" r="3.4"/>
<circle cx="1463.6" cy="1294.9" r="3.4"/>
<circle cx="1449.2" cy="1313.5" r="3.4"/>
<circle cx="1463.6" cy="1312.4" r="3.4"/>
<circle cx="1478.3" cy="1314.4" r="3.4"/>
<circle cx="1463.6" cy="1332.3" r="3.4"/>
<circle cx="1463.6" cy="1380.6" r="3.4"/>
</g>
<g stroke="#000" stroke-width="3.2" fill="none" stroke-linejoin="round">
<path d="M1599.30 1094.90V1238.10M1576.60 1094.90H1621.70"/>
<path d="M1599.30 1321.50V1354.10M1576.60 1354.10H1621.70"/>
<rect x="1555.90" y="1239.70" width="86.40" height="80.20" fill="#FF7F00"/>
<path d="M1555.90 1255.30H1642.30"/>
</g>
<g class="pt">
<circle cx="1599.3" cy="1094.4" r="3.4"/>
<circle cx="1599.3" cy="1234.0" r="3.4"/>
<circle cx="1591.7" cy="1251.6" r="3.4"/>
<circle cx="1606.4" cy="1249.8" r="3.4"/>
<circle cx="1606.4" cy="1258.0" r="3.4"/>
<circle cx="1599.3" cy="1283.5" r="3.4"/>
<circle cx="1599.3" cy="1334.6" r="3.4"/>
<circle cx="1599.3" cy="1354.1" r="3.4"/>
</g>
<g stroke="#000" stroke-width="3.2" fill="none" stroke-linejoin="round">
<path d="M1689.30 1291.70V1311.00M1667.10 1291.70H1712.00"/>
<path d="M1689.30 1351.50V1372.40M1667.10 1372.40H1712.00"/>
<rect x="1646.00" y="1312.60" width="88.00" height="37.30" fill="#1B9E77"/>
<path d="M1646.00 1314.50H1734.00"/>
</g>
<g class="pt">
<circle cx="1689.3" cy="1291.0" r="3.4"/>
<circle cx="1667.8" cy="1310.8" r="3.4"/>
<circle cx="1696.4" cy="1310.8" r="3.4"/>
<circle cx="1682.2" cy="1314.9" r="3.4"/>
<circle cx="1710.8" cy="1314.2" r="3.4"/>
<circle cx="1696.4" cy="1320.8" r="3.4"/>
<circle cx="1689.3" cy="1343.1" r="3.4"/>
<circle cx="1689.3" cy="1359.8" r="3.4"/>
<circle cx="1689.3" cy="1372.4" r="3.4"/>
</g>
<text x="1682.55" y="1281.40" font-size="34" textLength="13.39" lengthAdjust="spacingAndGlyphs" fill="#000">*</text></g>
</svg></body></html>
